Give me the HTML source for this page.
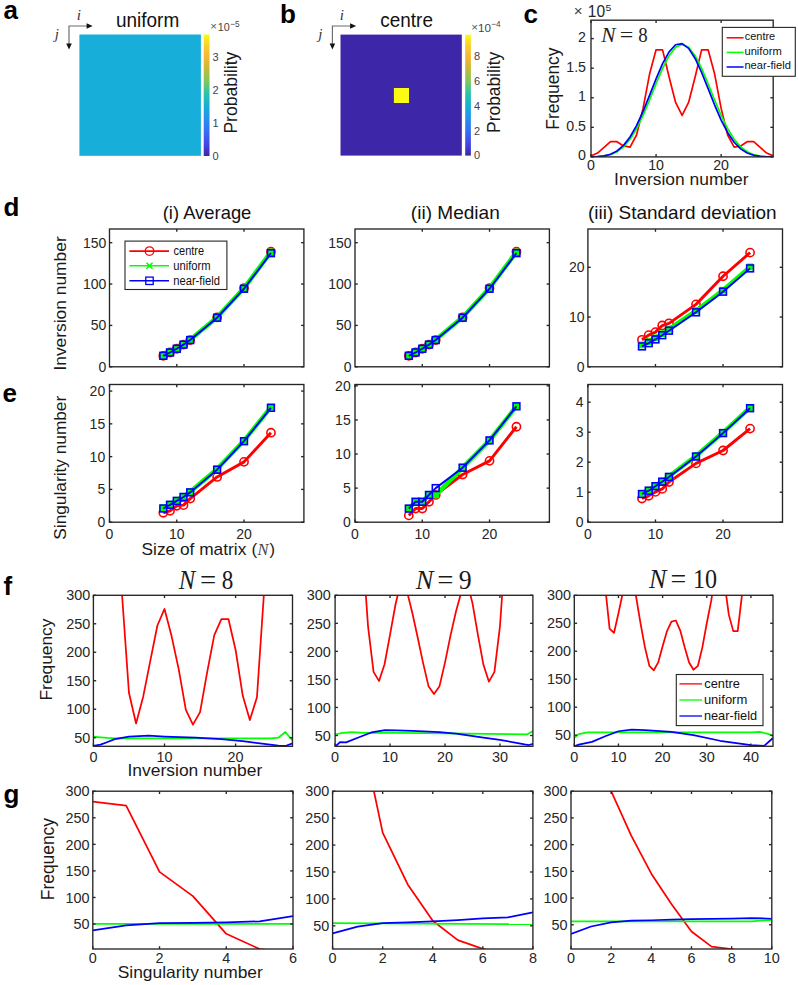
<!DOCTYPE html>
<html><head><meta charset="utf-8"><title>Figure</title>
<style>html,body{margin:0;padding:0;background:#fff;}body{width:798px;height:985px;overflow:hidden;font-family:"Liberation Sans",sans-serif;}svg{display:block;}</style>
</head><body>
<svg width="798" height="985" viewBox="0 0 798 985"><text x="3.5" y="19.2" font-size="26" text-anchor="start" fill="#000" font-family='"Liberation Sans", sans-serif' font-weight="bold" font-style="normal" >a</text>
<text x="280" y="22.9" font-size="26" text-anchor="start" fill="#000" font-family='"Liberation Sans", sans-serif' font-weight="bold" font-style="normal" >b</text>
<text x="523.5" y="23" font-size="26" text-anchor="start" fill="#000" font-family='"Liberation Sans", sans-serif' font-weight="bold" font-style="normal" >c</text>
<text x="3.5" y="216" font-size="26" text-anchor="start" fill="#000" font-family='"Liberation Sans", sans-serif' font-weight="bold" font-style="normal" >d</text>
<text x="2.5" y="402.3" font-size="26" text-anchor="start" fill="#000" font-family='"Liberation Sans", sans-serif' font-weight="bold" font-style="normal" >e</text>
<text x="3.5" y="595" font-size="26" text-anchor="start" fill="#000" font-family='"Liberation Sans", sans-serif' font-weight="bold" font-style="normal" >f</text>
<text x="3.5" y="803" font-size="26" text-anchor="start" fill="#000" font-family='"Liberation Sans", sans-serif' font-weight="bold" font-style="normal" >g</text>
<rect x="79.4" y="34.5" width="121.5" height="121.3" fill="rgb(23,175,217)"/>
<linearGradient id="pa" x1="0" y1="0" x2="0" y2="1"><stop offset="0" stop-color="rgb(249,251,21)"/><stop offset="0.08" stop-color="rgb(250,212,40)"/><stop offset="0.18" stop-color="rgb(248,182,55)"/><stop offset="0.28" stop-color="rgb(200,186,52)"/><stop offset="0.39" stop-color="rgb(120,200,100)"/><stop offset="0.49" stop-color="rgb(40,195,170)"/><stop offset="0.59" stop-color="rgb(20,175,215)"/><stop offset="0.69" stop-color="rgb(40,145,235)"/><stop offset="0.8" stop-color="rgb(55,110,245)"/><stop offset="0.9" stop-color="rgb(70,70,232)"/><stop offset="1" stop-color="rgb(62,38,168)"/></linearGradient>
<rect x="203.7" y="34.5" width="5.8" height="121.5" fill="url(#pa)"/>
<text x="212.5" y="160.1" font-size="11" text-anchor="start" fill="#444" font-family='"Liberation Sans", sans-serif' font-weight="normal" font-style="normal" >0</text>
<text x="212.5" y="127.1" font-size="11" text-anchor="start" fill="#444" font-family='"Liberation Sans", sans-serif' font-weight="normal" font-style="normal" >1</text>
<text x="212.5" y="94.1" font-size="11" text-anchor="start" fill="#444" font-family='"Liberation Sans", sans-serif' font-weight="normal" font-style="normal" >2</text>
<text x="212.5" y="61.1" font-size="11" text-anchor="start" fill="#444" font-family='"Liberation Sans", sans-serif' font-weight="normal" font-style="normal" >3</text>
<text x="210.2" y="30.2" font-size="10" fill="#555" font-family='"Liberation Sans", sans-serif' font-weight="normal" font-style="normal" textLength="6.64" lengthAdjust="spacingAndGlyphs">&#215;</text>
<text x="217.74" y="31" font-size="11" fill="#444" font-family='"Liberation Sans", sans-serif' font-weight="normal" font-style="normal" textLength="12.02" lengthAdjust="spacingAndGlyphs">10</text>
<text x="230.19" y="26.8" font-size="9" fill="#444" font-family='"Liberation Sans", sans-serif' font-weight="normal" font-style="normal" textLength="9.45" lengthAdjust="spacingAndGlyphs">&#8722;5</text>
<text transform="translate(237.2 133.6) rotate(-90)" x="0" y="0" font-size="18.3" fill="#1a1a1a" font-family='"Liberation Sans", sans-serif' font-weight="normal" font-style="normal" textLength="81.89" lengthAdjust="spacingAndGlyphs">Probability</text>
<text x="115.97" y="26.9" font-size="20" fill="#111" font-family='"Liberation Sans", sans-serif' font-weight="normal" font-style="normal" textLength="63.25" lengthAdjust="spacingAndGlyphs">uniform</text>
<path d="M87.6 26 L69 26 L69 44.4" stroke="#6a6a6a" stroke-width="1.15" fill="none"/>
<path d="M92.6 26 L86.6 23.2 L86.6 28.8 Z" fill="#111"/>
<path d="M69 49.4 L66.2 43.4 L71.8 43.4 Z" fill="#111"/>
<text x="76.8" y="19.6" font-size="15" text-anchor="start" fill="#333" font-family='"Liberation Serif", serif' font-weight="normal" font-style="italic" >i</text>
<text x="54.8" y="38.8" font-size="15" text-anchor="start" fill="#333" font-family='"Liberation Serif", serif' font-weight="normal" font-style="italic" >j</text>
<rect x="340.5" y="34.6" width="121.3" height="121" fill="rgb(62,38,168)"/>
<rect x="393.9" y="88" width="15.1" height="15" fill="rgb(249,251,21)"/>
<linearGradient id="pb" x1="0" y1="0" x2="0" y2="1"><stop offset="0" stop-color="rgb(249,251,21)"/><stop offset="0.08" stop-color="rgb(250,212,40)"/><stop offset="0.18" stop-color="rgb(248,182,55)"/><stop offset="0.28" stop-color="rgb(200,186,52)"/><stop offset="0.39" stop-color="rgb(120,200,100)"/><stop offset="0.49" stop-color="rgb(40,195,170)"/><stop offset="0.59" stop-color="rgb(20,175,215)"/><stop offset="0.69" stop-color="rgb(40,145,235)"/><stop offset="0.8" stop-color="rgb(55,110,245)"/><stop offset="0.9" stop-color="rgb(70,70,232)"/><stop offset="1" stop-color="rgb(62,38,168)"/></linearGradient>
<rect x="465.2" y="34.7" width="5.7" height="120.9" fill="url(#pb)"/>
<text x="474" y="159.2" font-size="11" text-anchor="start" fill="#444" font-family='"Liberation Sans", sans-serif' font-weight="normal" font-style="normal" >0</text>
<text x="474" y="134.5" font-size="11" text-anchor="start" fill="#444" font-family='"Liberation Sans", sans-serif' font-weight="normal" font-style="normal" >2</text>
<text x="474" y="109.8" font-size="11" text-anchor="start" fill="#444" font-family='"Liberation Sans", sans-serif' font-weight="normal" font-style="normal" >4</text>
<text x="474" y="85.1" font-size="11" text-anchor="start" fill="#444" font-family='"Liberation Sans", sans-serif' font-weight="normal" font-style="normal" >6</text>
<text x="474" y="60.4" font-size="11" text-anchor="start" fill="#444" font-family='"Liberation Sans", sans-serif' font-weight="normal" font-style="normal" >8</text>
<text x="471.19" y="31.2" font-size="10" fill="#555" font-family='"Liberation Sans", sans-serif' font-weight="normal" font-style="normal" textLength="6.77" lengthAdjust="spacingAndGlyphs">&#215;</text>
<text x="478.07" y="31.8" font-size="11" fill="#444" font-family='"Liberation Sans", sans-serif' font-weight="normal" font-style="normal" textLength="12.92" lengthAdjust="spacingAndGlyphs">10</text>
<text x="491.29" y="27.1" font-size="9" fill="#444" font-family='"Liberation Sans", sans-serif' font-weight="normal" font-style="normal" textLength="9.36" lengthAdjust="spacingAndGlyphs">&#8722;4</text>
<text transform="translate(500 132.89) rotate(-90)" x="0" y="0" font-size="18.3" fill="#1a1a1a" font-family='"Liberation Sans", sans-serif' font-weight="normal" font-style="normal" textLength="81.07" lengthAdjust="spacingAndGlyphs">Probability</text>
<text x="380.34" y="26.7" font-size="19.8" fill="#111" font-family='"Liberation Sans", sans-serif' font-weight="normal" font-style="normal" textLength="52.59" lengthAdjust="spacingAndGlyphs">centre</text>
<path d="M351.1 26 L332.4 26 L332.4 44.5" stroke="#6a6a6a" stroke-width="1.15" fill="none"/>
<path d="M356.1 26 L350.1 23.2 L350.1 28.8 Z" fill="#111"/>
<path d="M332.4 49.5 L329.6 43.5 L335.2 43.5 Z" fill="#111"/>
<text x="339.8" y="19.6" font-size="15" text-anchor="start" fill="#333" font-family='"Liberation Serif", serif' font-weight="normal" font-style="italic" >i</text>
<text x="318.3" y="38.8" font-size="15" text-anchor="start" fill="#333" font-family='"Liberation Serif", serif' font-weight="normal" font-style="italic" >j</text>
<clipPath id="c1"><rect x="591" y="20.2" width="182.2" height="136.7"/></clipPath>
<polyline points="591,155.89 597.51,153.06 604.01,147.44 610.52,141.7 617.03,141.7 623.54,145.96 630.04,147.08 636.55,135.01 643.06,108.4 649.56,74.09 656.07,49.84 662.58,49.84 669.09,77.04 675.59,102.48 682.1,115.49 688.61,102.48 695.11,77.04 701.62,49.84 708.13,49.84 714.64,74.09 721.14,108.4 727.65,135.01 734.16,147.08 740.66,145.96 747.17,141.7 753.68,141.7 760.19,147.44 766.69,153.06 773.2,155.89" fill="none" stroke="#ff0000" stroke-width="1.7" stroke-linejoin="round" clip-path="url(#c1)"/>
<clipPath id="c2"><rect x="591" y="20.2" width="182.2" height="136.7"/></clipPath>
<polyline points="591,156.87 597.51,156.69 604.01,156.11 610.52,154.67 617.03,151.79 623.54,146.84 630.04,139.24 636.55,128.7 643.06,115.38 649.56,99.98 656.07,83.75 662.58,68.38 669.09,55.67 675.59,47.28 682.1,44.35 688.61,47.28 695.11,55.67 701.62,68.38 708.13,83.75 714.64,99.98 721.14,115.38 727.65,128.7 734.16,139.24 740.66,146.84 747.17,151.79 753.68,154.67 760.19,156.11 766.69,156.69 773.2,156.87" fill="none" stroke="#00ff00" stroke-width="1.7" stroke-linejoin="round" clip-path="url(#c2)"/>
<clipPath id="c3"><rect x="591" y="20.2" width="182.2" height="136.7"/></clipPath>
<polyline points="591,156.85 597.51,156.63 604.01,155.91 610.52,154.23 617.03,150.94 623.54,145.38 630.04,137 636.55,125.58 643.06,111.41 649.56,95.34 656.07,78.84 662.58,63.7 669.09,51.82 675.59,44.77 682.1,43.57 688.61,48.36 695.11,58.47 701.62,72.5 708.13,88.66 714.64,105.06 721.14,120.09 727.65,132.66 734.16,142.25 740.66,148.9 747.17,153.04 753.68,155.32 760.19,156.38 766.69,156.78 773.2,156.89" fill="none" stroke="#0000ff" stroke-width="1.7" stroke-linejoin="round" clip-path="url(#c3)"/>
<line x1="591" y1="156.9" x2="591" y2="154.1" stroke="#262626" stroke-width="1.35"/>
<line x1="591" y1="20.2" x2="591" y2="23" stroke="#262626" stroke-width="1.35"/>
<line x1="656.07" y1="156.9" x2="656.07" y2="154.1" stroke="#262626" stroke-width="1.35"/>
<line x1="656.07" y1="20.2" x2="656.07" y2="23" stroke="#262626" stroke-width="1.35"/>
<line x1="721.14" y1="156.9" x2="721.14" y2="154.1" stroke="#262626" stroke-width="1.35"/>
<line x1="721.14" y1="20.2" x2="721.14" y2="23" stroke="#262626" stroke-width="1.35"/>
<line x1="591" y1="156.9" x2="593.8" y2="156.9" stroke="#262626" stroke-width="1.35"/>
<line x1="773.2" y1="156.9" x2="770.4" y2="156.9" stroke="#262626" stroke-width="1.35"/>
<line x1="591" y1="127.32" x2="593.8" y2="127.32" stroke="#262626" stroke-width="1.35"/>
<line x1="773.2" y1="127.32" x2="770.4" y2="127.32" stroke="#262626" stroke-width="1.35"/>
<line x1="591" y1="97.75" x2="593.8" y2="97.75" stroke="#262626" stroke-width="1.35"/>
<line x1="773.2" y1="97.75" x2="770.4" y2="97.75" stroke="#262626" stroke-width="1.35"/>
<line x1="591" y1="68.17" x2="593.8" y2="68.17" stroke="#262626" stroke-width="1.35"/>
<line x1="773.2" y1="68.17" x2="770.4" y2="68.17" stroke="#262626" stroke-width="1.35"/>
<line x1="591" y1="38.6" x2="593.8" y2="38.6" stroke="#262626" stroke-width="1.35"/>
<line x1="773.2" y1="38.6" x2="770.4" y2="38.6" stroke="#262626" stroke-width="1.35"/>
<rect x="591" y="20.2" width="182.2" height="136.7" fill="none" stroke="#262626" stroke-width="1.35"/>
<text x="591" y="170.4" font-size="14.2" text-anchor="middle" fill="#262626" font-family='"Liberation Sans", sans-serif' font-weight="normal" font-style="normal" >0</text>
<text x="656.07" y="170.4" font-size="14.2" text-anchor="middle" fill="#262626" font-family='"Liberation Sans", sans-serif' font-weight="normal" font-style="normal" >10</text>
<text x="721.14" y="170.4" font-size="14.2" text-anchor="middle" fill="#262626" font-family='"Liberation Sans", sans-serif' font-weight="normal" font-style="normal" >20</text>
<text x="586" y="160.45" font-size="14.2" text-anchor="end" fill="#262626" font-family='"Liberation Sans", sans-serif' font-weight="normal" font-style="normal" >0</text>
<text x="586" y="130.87" font-size="14.2" text-anchor="end" fill="#262626" font-family='"Liberation Sans", sans-serif' font-weight="normal" font-style="normal" >0.5</text>
<text x="586" y="101.3" font-size="14.2" text-anchor="end" fill="#262626" font-family='"Liberation Sans", sans-serif' font-weight="normal" font-style="normal" >1</text>
<text x="586" y="71.72" font-size="14.2" text-anchor="end" fill="#262626" font-family='"Liberation Sans", sans-serif' font-weight="normal" font-style="normal" >1.5</text>
<text x="586" y="42.15" font-size="14.2" text-anchor="end" fill="#262626" font-family='"Liberation Sans", sans-serif' font-weight="normal" font-style="normal" >2</text>
<text x="573.73" y="16.3" font-size="15" fill="#444" font-family='"Liberation Sans", sans-serif' font-weight="normal" font-style="normal" textLength="8.89" lengthAdjust="spacingAndGlyphs">&#215;</text>
<text x="587.86" y="16.5" font-size="15.6" fill="#262626" font-family='"Liberation Sans", sans-serif' font-weight="normal" font-style="normal" textLength="17.3" lengthAdjust="spacingAndGlyphs">10</text>
<text x="605.58" y="10.6" font-size="8.6" fill="#262626" font-family='"Liberation Sans", sans-serif' font-weight="normal" font-style="normal" textLength="5.8" lengthAdjust="spacingAndGlyphs">5</text>
<text x="601.21" y="42.3" font-size="21.6" fill="#222" font-family='"Liberation Serif", serif' font-weight="normal" font-style="italic" textLength="14.27" lengthAdjust="spacingAndGlyphs">N</text>
<text x="619.7" y="42.3" font-size="21.6" fill="#222" font-family='"Liberation Serif", serif' font-weight="normal" font-style="normal" textLength="13.56" lengthAdjust="spacingAndGlyphs">=</text>
<text x="638.25" y="42.3" font-size="21.6" fill="#222" font-family='"Liberation Serif", serif' font-weight="normal" font-style="normal" textLength="9.4" lengthAdjust="spacingAndGlyphs">8</text>
<text transform="translate(559.3 129.69) rotate(-90)" x="0" y="0" font-size="17.5" fill="#1a1a1a" font-family='"Liberation Sans", sans-serif' font-weight="normal" font-style="normal" textLength="82.17" lengthAdjust="spacingAndGlyphs">Frequency</text>
<text x="614.13" y="185.2" font-size="16.6" fill="#1a1a1a" font-family='"Liberation Sans", sans-serif' font-weight="normal" font-style="normal" textLength="134.45" lengthAdjust="spacingAndGlyphs">Inversion number</text>
<rect x="722.3" y="27.4" width="73" height="48.9" fill="#fff" stroke="#262626" stroke-width="1.1"/>
<line x1="726.6" y1="37.8" x2="743.6" y2="37.8" stroke="#ff0000" stroke-width="1.5"/>
<text x="744.76" y="40.2" font-size="11.8" fill="#111" font-family='"Liberation Sans", sans-serif' font-weight="normal" font-style="normal" textLength="30.48" lengthAdjust="spacingAndGlyphs">centre</text>
<line x1="726.6" y1="52.4" x2="743.6" y2="52.4" stroke="#00ff00" stroke-width="1.5"/>
<text x="744.42" y="54.8" font-size="11.8" fill="#111" font-family='"Liberation Sans", sans-serif' font-weight="normal" font-style="normal" textLength="37.31" lengthAdjust="spacingAndGlyphs">uniform</text>
<line x1="726.6" y1="67" x2="743.6" y2="67" stroke="#0000ff" stroke-width="1.5"/>
<text x="744.42" y="69.4" font-size="11.8" fill="#111" font-family='"Liberation Sans", sans-serif' font-weight="normal" font-style="normal" textLength="46.45" lengthAdjust="spacingAndGlyphs">near-field</text>
<polyline points="163.31,355.79 170.04,352.48 176.77,348.76 183.49,344.62 190.22,340.07 217.13,317.39 244.03,288.09 270.94,251.68" fill="none" stroke="#ff0000" stroke-width="2.9" stroke-linejoin="round"/>
<circle cx="163.31" cy="355.79" r="4.1" fill="none" stroke="#ff0000" stroke-width="1.6"/>
<circle cx="170.04" cy="352.48" r="4.1" fill="none" stroke="#ff0000" stroke-width="1.6"/>
<circle cx="176.77" cy="348.76" r="4.1" fill="none" stroke="#ff0000" stroke-width="1.6"/>
<circle cx="183.49" cy="344.62" r="4.1" fill="none" stroke="#ff0000" stroke-width="1.6"/>
<circle cx="190.22" cy="340.07" r="4.1" fill="none" stroke="#ff0000" stroke-width="1.6"/>
<circle cx="217.13" cy="317.39" r="4.1" fill="none" stroke="#ff0000" stroke-width="1.6"/>
<circle cx="244.03" cy="288.09" r="4.1" fill="none" stroke="#ff0000" stroke-width="1.6"/>
<circle cx="270.94" cy="251.68" r="4.1" fill="none" stroke="#ff0000" stroke-width="1.6"/>
<polyline points="163.31,355.38 170.04,352.07 176.77,348.34 183.49,344.21 190.22,339.65 217.13,317.31 244.03,288.09 270.94,251.93" fill="none" stroke="#00ff00" stroke-width="4.4" stroke-linejoin="round"/>
<rect x="159.91" y="351.98" width="6.8" height="6.8" fill="#00ff00"/>
<rect x="166.64" y="348.67" width="6.8" height="6.8" fill="#00ff00"/>
<rect x="173.37" y="344.94" width="6.8" height="6.8" fill="#00ff00"/>
<rect x="180.09" y="340.81" width="6.8" height="6.8" fill="#00ff00"/>
<rect x="186.82" y="336.25" width="6.8" height="6.8" fill="#00ff00"/>
<rect x="213.73" y="313.91" width="6.8" height="6.8" fill="#00ff00"/>
<rect x="240.63" y="284.69" width="6.8" height="6.8" fill="#00ff00"/>
<rect x="267.54" y="248.53" width="6.8" height="6.8" fill="#00ff00"/>
<polyline points="163.31,355.79 170.04,352.48 176.77,348.76 183.49,344.62 190.22,340.07 217.13,317.72 244.03,288.75 270.94,253.17" fill="none" stroke="#0000ff" stroke-width="1.9" stroke-linejoin="round"/>
<rect x="159.91" y="352.39" width="6.8" height="6.8" fill="none" stroke="#0000ff" stroke-width="1.6"/>
<rect x="166.64" y="349.08" width="6.8" height="6.8" fill="none" stroke="#0000ff" stroke-width="1.6"/>
<rect x="173.37" y="345.36" width="6.8" height="6.8" fill="none" stroke="#0000ff" stroke-width="1.6"/>
<rect x="180.09" y="341.22" width="6.8" height="6.8" fill="none" stroke="#0000ff" stroke-width="1.6"/>
<rect x="186.82" y="336.67" width="6.8" height="6.8" fill="none" stroke="#0000ff" stroke-width="1.6"/>
<rect x="213.73" y="314.32" width="6.8" height="6.8" fill="none" stroke="#0000ff" stroke-width="1.6"/>
<rect x="240.63" y="285.35" width="6.8" height="6.8" fill="none" stroke="#0000ff" stroke-width="1.6"/>
<rect x="267.54" y="249.77" width="6.8" height="6.8" fill="none" stroke="#0000ff" stroke-width="1.6"/>
<line x1="176.77" y1="366.8" x2="176.77" y2="364" stroke="#262626" stroke-width="1.35"/>
<line x1="176.77" y1="229" x2="176.77" y2="231.8" stroke="#262626" stroke-width="1.35"/>
<line x1="244.03" y1="366.8" x2="244.03" y2="364" stroke="#262626" stroke-width="1.35"/>
<line x1="244.03" y1="229" x2="244.03" y2="231.8" stroke="#262626" stroke-width="1.35"/>
<line x1="109.5" y1="366.8" x2="112.3" y2="366.8" stroke="#262626" stroke-width="1.35"/>
<line x1="303.9" y1="366.8" x2="301.1" y2="366.8" stroke="#262626" stroke-width="1.35"/>
<line x1="109.5" y1="325.42" x2="112.3" y2="325.42" stroke="#262626" stroke-width="1.35"/>
<line x1="303.9" y1="325.42" x2="301.1" y2="325.42" stroke="#262626" stroke-width="1.35"/>
<line x1="109.5" y1="284.04" x2="112.3" y2="284.04" stroke="#262626" stroke-width="1.35"/>
<line x1="303.9" y1="284.04" x2="301.1" y2="284.04" stroke="#262626" stroke-width="1.35"/>
<line x1="109.5" y1="242.66" x2="112.3" y2="242.66" stroke="#262626" stroke-width="1.35"/>
<line x1="303.9" y1="242.66" x2="301.1" y2="242.66" stroke="#262626" stroke-width="1.35"/>
<rect x="109.5" y="229" width="194.4" height="137.8" fill="none" stroke="#262626" stroke-width="1.35"/>
<text x="106.3" y="371.84" font-size="14" text-anchor="end" fill="#262626" font-family='"Liberation Sans", sans-serif' font-weight="normal" font-style="normal" >0</text>
<text x="106.3" y="330.46" font-size="14" text-anchor="end" fill="#262626" font-family='"Liberation Sans", sans-serif' font-weight="normal" font-style="normal" >50</text>
<text x="106.3" y="289.08" font-size="14" text-anchor="end" fill="#262626" font-family='"Liberation Sans", sans-serif' font-weight="normal" font-style="normal" >100</text>
<text x="106.3" y="247.7" font-size="14" text-anchor="end" fill="#262626" font-family='"Liberation Sans", sans-serif' font-weight="normal" font-style="normal" >150</text>
<rect x="125" y="241.1" width="101.9" height="48.4" fill="#fff" stroke="#262626" stroke-width="1.1"/>
<line x1="129.4" y1="251.1" x2="169" y2="251.1" stroke="#ff0000" stroke-width="1.6"/>
<circle cx="149.5" cy="251.1" r="4.3" fill="none" stroke="#ff0000" stroke-width="1.3"/>
<text x="173.56" y="255.3" font-size="12" fill="#111" font-family='"Liberation Sans", sans-serif' font-weight="normal" font-style="normal" textLength="30.58" lengthAdjust="spacingAndGlyphs">centre</text>
<line x1="129.4" y1="265.7" x2="169" y2="265.7" stroke="#00ff00" stroke-width="1.6"/>
<path d="M146.5 262.7L152.5 268.7M146.5 268.7L152.5 262.7" stroke="#00ff00" stroke-width="1.6"/>
<text x="173.22" y="269.9" font-size="12" fill="#111" font-family='"Liberation Sans", sans-serif' font-weight="normal" font-style="normal" textLength="37.31" lengthAdjust="spacingAndGlyphs">uniform</text>
<line x1="129.4" y1="280.8" x2="169" y2="280.8" stroke="#0000ff" stroke-width="1.6"/>
<rect x="145.8" y="277.1" width="7.4" height="7.4" fill="none" stroke="#0000ff" stroke-width="1.3"/>
<text x="173.22" y="285" font-size="12" fill="#111" font-family='"Liberation Sans", sans-serif' font-weight="normal" font-style="normal" textLength="46.66" lengthAdjust="spacingAndGlyphs">near-field</text>
<text transform="translate(65.6 370.56) rotate(-90)" x="0" y="0" font-size="17" fill="#1a1a1a" font-family='"Liberation Sans", sans-serif' font-weight="normal" font-style="normal" textLength="134.24" lengthAdjust="spacingAndGlyphs">Inversion number</text>
<text x="162.7" y="218.8" font-size="18.2" fill="#111" font-family='"Liberation Sans", sans-serif' font-weight="normal" font-style="normal" textLength="88.68" lengthAdjust="spacingAndGlyphs">(i) Average</text>
<polyline points="408.81,355.79 415.54,352.48 422.27,348.76 428.99,344.62 435.72,340.07 462.63,317.39 489.53,288.09 516.44,251.68" fill="none" stroke="#ff0000" stroke-width="2.9" stroke-linejoin="round"/>
<circle cx="408.81" cy="355.79" r="4.1" fill="none" stroke="#ff0000" stroke-width="1.6"/>
<circle cx="415.54" cy="352.48" r="4.1" fill="none" stroke="#ff0000" stroke-width="1.6"/>
<circle cx="422.27" cy="348.76" r="4.1" fill="none" stroke="#ff0000" stroke-width="1.6"/>
<circle cx="428.99" cy="344.62" r="4.1" fill="none" stroke="#ff0000" stroke-width="1.6"/>
<circle cx="435.72" cy="340.07" r="4.1" fill="none" stroke="#ff0000" stroke-width="1.6"/>
<circle cx="462.63" cy="317.39" r="4.1" fill="none" stroke="#ff0000" stroke-width="1.6"/>
<circle cx="489.53" cy="288.09" r="4.1" fill="none" stroke="#ff0000" stroke-width="1.6"/>
<circle cx="516.44" cy="251.68" r="4.1" fill="none" stroke="#ff0000" stroke-width="1.6"/>
<polyline points="408.81,355.38 415.54,352.07 422.27,348.34 428.99,344.21 435.72,339.65 462.63,317.31 489.53,288.09 516.44,251.93" fill="none" stroke="#00ff00" stroke-width="4.4" stroke-linejoin="round"/>
<rect x="405.41" y="351.98" width="6.8" height="6.8" fill="#00ff00"/>
<rect x="412.14" y="348.67" width="6.8" height="6.8" fill="#00ff00"/>
<rect x="418.87" y="344.94" width="6.8" height="6.8" fill="#00ff00"/>
<rect x="425.59" y="340.81" width="6.8" height="6.8" fill="#00ff00"/>
<rect x="432.32" y="336.25" width="6.8" height="6.8" fill="#00ff00"/>
<rect x="459.23" y="313.91" width="6.8" height="6.8" fill="#00ff00"/>
<rect x="486.13" y="284.69" width="6.8" height="6.8" fill="#00ff00"/>
<rect x="513.04" y="248.53" width="6.8" height="6.8" fill="#00ff00"/>
<polyline points="408.81,355.79 415.54,352.48 422.27,348.76 428.99,344.62 435.72,340.07 462.63,317.72 489.53,288.75 516.44,253.17" fill="none" stroke="#0000ff" stroke-width="1.9" stroke-linejoin="round"/>
<rect x="405.41" y="352.39" width="6.8" height="6.8" fill="none" stroke="#0000ff" stroke-width="1.6"/>
<rect x="412.14" y="349.08" width="6.8" height="6.8" fill="none" stroke="#0000ff" stroke-width="1.6"/>
<rect x="418.87" y="345.36" width="6.8" height="6.8" fill="none" stroke="#0000ff" stroke-width="1.6"/>
<rect x="425.59" y="341.22" width="6.8" height="6.8" fill="none" stroke="#0000ff" stroke-width="1.6"/>
<rect x="432.32" y="336.67" width="6.8" height="6.8" fill="none" stroke="#0000ff" stroke-width="1.6"/>
<rect x="459.23" y="314.32" width="6.8" height="6.8" fill="none" stroke="#0000ff" stroke-width="1.6"/>
<rect x="486.13" y="285.35" width="6.8" height="6.8" fill="none" stroke="#0000ff" stroke-width="1.6"/>
<rect x="513.04" y="249.77" width="6.8" height="6.8" fill="none" stroke="#0000ff" stroke-width="1.6"/>
<line x1="422.27" y1="366.8" x2="422.27" y2="364" stroke="#262626" stroke-width="1.35"/>
<line x1="422.27" y1="229" x2="422.27" y2="231.8" stroke="#262626" stroke-width="1.35"/>
<line x1="489.53" y1="366.8" x2="489.53" y2="364" stroke="#262626" stroke-width="1.35"/>
<line x1="489.53" y1="229" x2="489.53" y2="231.8" stroke="#262626" stroke-width="1.35"/>
<line x1="355" y1="366.8" x2="357.8" y2="366.8" stroke="#262626" stroke-width="1.35"/>
<line x1="549.4" y1="366.8" x2="546.6" y2="366.8" stroke="#262626" stroke-width="1.35"/>
<line x1="355" y1="325.42" x2="357.8" y2="325.42" stroke="#262626" stroke-width="1.35"/>
<line x1="549.4" y1="325.42" x2="546.6" y2="325.42" stroke="#262626" stroke-width="1.35"/>
<line x1="355" y1="284.04" x2="357.8" y2="284.04" stroke="#262626" stroke-width="1.35"/>
<line x1="549.4" y1="284.04" x2="546.6" y2="284.04" stroke="#262626" stroke-width="1.35"/>
<line x1="355" y1="242.66" x2="357.8" y2="242.66" stroke="#262626" stroke-width="1.35"/>
<line x1="549.4" y1="242.66" x2="546.6" y2="242.66" stroke="#262626" stroke-width="1.35"/>
<rect x="355" y="229" width="194.4" height="137.8" fill="none" stroke="#262626" stroke-width="1.35"/>
<text x="351.6" y="371.84" font-size="14" text-anchor="end" fill="#262626" font-family='"Liberation Sans", sans-serif' font-weight="normal" font-style="normal" >0</text>
<text x="351.6" y="330.46" font-size="14" text-anchor="end" fill="#262626" font-family='"Liberation Sans", sans-serif' font-weight="normal" font-style="normal" >50</text>
<text x="351.6" y="289.08" font-size="14" text-anchor="end" fill="#262626" font-family='"Liberation Sans", sans-serif' font-weight="normal" font-style="normal" >100</text>
<text x="351.6" y="247.7" font-size="14" text-anchor="end" fill="#262626" font-family='"Liberation Sans", sans-serif' font-weight="normal" font-style="normal" >150</text>
<text x="410.86" y="218.8" font-size="18.2" fill="#111" font-family='"Liberation Sans", sans-serif' font-weight="normal" font-style="normal" textLength="88.94" lengthAdjust="spacingAndGlyphs">(ii) Median</text>
<polyline points="641.96,339.79 648.71,335.11 655.47,332.13 662.23,325.51 668.98,323.32 696.01,304.37 723.04,276.26 750.07,252.63" fill="none" stroke="#ff0000" stroke-width="2.9" stroke-linejoin="round"/>
<circle cx="641.96" cy="339.79" r="4.1" fill="none" stroke="#ff0000" stroke-width="1.6"/>
<circle cx="648.71" cy="335.11" r="4.1" fill="none" stroke="#ff0000" stroke-width="1.6"/>
<circle cx="655.47" cy="332.13" r="4.1" fill="none" stroke="#ff0000" stroke-width="1.6"/>
<circle cx="662.23" cy="325.51" r="4.1" fill="none" stroke="#ff0000" stroke-width="1.6"/>
<circle cx="668.98" cy="323.32" r="4.1" fill="none" stroke="#ff0000" stroke-width="1.6"/>
<circle cx="696.01" cy="304.37" r="4.1" fill="none" stroke="#ff0000" stroke-width="1.6"/>
<circle cx="723.04" cy="276.26" r="4.1" fill="none" stroke="#ff0000" stroke-width="1.6"/>
<circle cx="750.07" cy="252.63" r="4.1" fill="none" stroke="#ff0000" stroke-width="1.6"/>
<polyline points="641.96,344.91 648.71,341.68 655.47,337.95 662.23,333.72 668.98,329.19 696.01,310.83 723.04,290.19 750.07,266.91" fill="none" stroke="#00ff00" stroke-width="4.4" stroke-linejoin="round"/>
<rect x="638.56" y="341.51" width="6.8" height="6.8" fill="#00ff00"/>
<rect x="645.31" y="338.28" width="6.8" height="6.8" fill="#00ff00"/>
<rect x="652.07" y="334.55" width="6.8" height="6.8" fill="#00ff00"/>
<rect x="658.83" y="330.32" width="6.8" height="6.8" fill="#00ff00"/>
<rect x="665.58" y="325.79" width="6.8" height="6.8" fill="#00ff00"/>
<rect x="692.61" y="307.43" width="6.8" height="6.8" fill="#00ff00"/>
<rect x="719.64" y="286.79" width="6.8" height="6.8" fill="#00ff00"/>
<rect x="746.67" y="263.51" width="6.8" height="6.8" fill="#00ff00"/>
<polyline points="641.96,346.4 648.71,343.17 655.47,339.44 662.23,335.21 668.98,330.68 696.01,312.33 723.04,291.68 750.07,268.4" fill="none" stroke="#0000ff" stroke-width="1.9" stroke-linejoin="round"/>
<rect x="638.56" y="343" width="6.8" height="6.8" fill="none" stroke="#0000ff" stroke-width="1.6"/>
<rect x="645.31" y="339.77" width="6.8" height="6.8" fill="none" stroke="#0000ff" stroke-width="1.6"/>
<rect x="652.07" y="336.04" width="6.8" height="6.8" fill="none" stroke="#0000ff" stroke-width="1.6"/>
<rect x="658.83" y="331.81" width="6.8" height="6.8" fill="none" stroke="#0000ff" stroke-width="1.6"/>
<rect x="665.58" y="327.28" width="6.8" height="6.8" fill="none" stroke="#0000ff" stroke-width="1.6"/>
<rect x="692.61" y="308.93" width="6.8" height="6.8" fill="none" stroke="#0000ff" stroke-width="1.6"/>
<rect x="719.64" y="288.28" width="6.8" height="6.8" fill="none" stroke="#0000ff" stroke-width="1.6"/>
<rect x="746.67" y="265" width="6.8" height="6.8" fill="none" stroke="#0000ff" stroke-width="1.6"/>
<line x1="655.47" y1="366.8" x2="655.47" y2="364" stroke="#262626" stroke-width="1.35"/>
<line x1="655.47" y1="229" x2="655.47" y2="231.8" stroke="#262626" stroke-width="1.35"/>
<line x1="723.04" y1="366.8" x2="723.04" y2="364" stroke="#262626" stroke-width="1.35"/>
<line x1="723.04" y1="229" x2="723.04" y2="231.8" stroke="#262626" stroke-width="1.35"/>
<line x1="587.9" y1="366.8" x2="590.7" y2="366.8" stroke="#262626" stroke-width="1.35"/>
<line x1="782.5" y1="366.8" x2="779.7" y2="366.8" stroke="#262626" stroke-width="1.35"/>
<line x1="587.9" y1="317.05" x2="590.7" y2="317.05" stroke="#262626" stroke-width="1.35"/>
<line x1="782.5" y1="317.05" x2="779.7" y2="317.05" stroke="#262626" stroke-width="1.35"/>
<line x1="587.9" y1="267.31" x2="590.7" y2="267.31" stroke="#262626" stroke-width="1.35"/>
<line x1="782.5" y1="267.31" x2="779.7" y2="267.31" stroke="#262626" stroke-width="1.35"/>
<rect x="587.9" y="229" width="194.6" height="137.8" fill="none" stroke="#262626" stroke-width="1.35"/>
<text x="584.5" y="371.84" font-size="14" text-anchor="end" fill="#262626" font-family='"Liberation Sans", sans-serif' font-weight="normal" font-style="normal" >0</text>
<text x="584.5" y="322.09" font-size="14" text-anchor="end" fill="#262626" font-family='"Liberation Sans", sans-serif' font-weight="normal" font-style="normal" >10</text>
<text x="584.5" y="272.35" font-size="14" text-anchor="end" fill="#262626" font-family='"Liberation Sans", sans-serif' font-weight="normal" font-style="normal" >20</text>
<text x="588.06" y="218.8" font-size="18.2" fill="#111" font-family='"Liberation Sans", sans-serif' font-weight="normal" font-style="normal" textLength="188.56" lengthAdjust="spacingAndGlyphs">(iii) Standard deviation</text>
<polyline points="163.31,512.76 170.04,510.86 176.77,505.81 183.49,505.15 190.22,498.59 217.13,476.96 244.03,461.87 270.94,432.69" fill="none" stroke="#ff0000" stroke-width="2.9" stroke-linejoin="round"/>
<circle cx="163.31" cy="512.76" r="4.1" fill="none" stroke="#ff0000" stroke-width="1.6"/>
<circle cx="170.04" cy="510.86" r="4.1" fill="none" stroke="#ff0000" stroke-width="1.6"/>
<circle cx="176.77" cy="505.81" r="4.1" fill="none" stroke="#ff0000" stroke-width="1.6"/>
<circle cx="183.49" cy="505.15" r="4.1" fill="none" stroke="#ff0000" stroke-width="1.6"/>
<circle cx="190.22" cy="498.59" r="4.1" fill="none" stroke="#ff0000" stroke-width="1.6"/>
<circle cx="217.13" cy="476.96" r="4.1" fill="none" stroke="#ff0000" stroke-width="1.6"/>
<circle cx="244.03" cy="461.87" r="4.1" fill="none" stroke="#ff0000" stroke-width="1.6"/>
<circle cx="270.94" cy="432.69" r="4.1" fill="none" stroke="#ff0000" stroke-width="1.6"/>
<polyline points="163.31,507.84 170.04,504.17 176.77,500.23 183.49,496.3 190.22,491.71 217.13,469.02 244.03,440.56 270.94,407.12" fill="none" stroke="#00ff00" stroke-width="4.4" stroke-linejoin="round"/>
<rect x="159.91" y="504.44" width="6.8" height="6.8" fill="#00ff00"/>
<rect x="166.64" y="500.77" width="6.8" height="6.8" fill="#00ff00"/>
<rect x="173.37" y="496.83" width="6.8" height="6.8" fill="#00ff00"/>
<rect x="180.09" y="492.9" width="6.8" height="6.8" fill="#00ff00"/>
<rect x="186.82" y="488.31" width="6.8" height="6.8" fill="#00ff00"/>
<rect x="213.73" y="465.62" width="6.8" height="6.8" fill="#00ff00"/>
<rect x="240.63" y="437.16" width="6.8" height="6.8" fill="#00ff00"/>
<rect x="267.54" y="403.72" width="6.8" height="6.8" fill="#00ff00"/>
<polyline points="163.31,508.5 170.04,504.82 176.77,500.89 183.49,496.96 190.22,492.37 217.13,469.68 244.03,441.22 270.94,407.78" fill="none" stroke="#0000ff" stroke-width="1.9" stroke-linejoin="round"/>
<rect x="159.91" y="505.1" width="6.8" height="6.8" fill="none" stroke="#0000ff" stroke-width="1.6"/>
<rect x="166.64" y="501.42" width="6.8" height="6.8" fill="none" stroke="#0000ff" stroke-width="1.6"/>
<rect x="173.37" y="497.49" width="6.8" height="6.8" fill="none" stroke="#0000ff" stroke-width="1.6"/>
<rect x="180.09" y="493.56" width="6.8" height="6.8" fill="none" stroke="#0000ff" stroke-width="1.6"/>
<rect x="186.82" y="488.97" width="6.8" height="6.8" fill="none" stroke="#0000ff" stroke-width="1.6"/>
<rect x="213.73" y="466.28" width="6.8" height="6.8" fill="none" stroke="#0000ff" stroke-width="1.6"/>
<rect x="240.63" y="437.82" width="6.8" height="6.8" fill="none" stroke="#0000ff" stroke-width="1.6"/>
<rect x="267.54" y="404.38" width="6.8" height="6.8" fill="none" stroke="#0000ff" stroke-width="1.6"/>
<line x1="109.5" y1="522.2" x2="109.5" y2="519.4" stroke="#262626" stroke-width="1.35"/>
<line x1="109.5" y1="384.5" x2="109.5" y2="387.3" stroke="#262626" stroke-width="1.35"/>
<line x1="176.77" y1="522.2" x2="176.77" y2="519.4" stroke="#262626" stroke-width="1.35"/>
<line x1="176.77" y1="384.5" x2="176.77" y2="387.3" stroke="#262626" stroke-width="1.35"/>
<line x1="244.03" y1="522.2" x2="244.03" y2="519.4" stroke="#262626" stroke-width="1.35"/>
<line x1="244.03" y1="384.5" x2="244.03" y2="387.3" stroke="#262626" stroke-width="1.35"/>
<line x1="109.5" y1="522.2" x2="112.3" y2="522.2" stroke="#262626" stroke-width="1.35"/>
<line x1="303.9" y1="522.2" x2="301.1" y2="522.2" stroke="#262626" stroke-width="1.35"/>
<line x1="109.5" y1="489.41" x2="112.3" y2="489.41" stroke="#262626" stroke-width="1.35"/>
<line x1="303.9" y1="489.41" x2="301.1" y2="489.41" stroke="#262626" stroke-width="1.35"/>
<line x1="109.5" y1="456.63" x2="112.3" y2="456.63" stroke="#262626" stroke-width="1.35"/>
<line x1="303.9" y1="456.63" x2="301.1" y2="456.63" stroke="#262626" stroke-width="1.35"/>
<line x1="109.5" y1="423.84" x2="112.3" y2="423.84" stroke="#262626" stroke-width="1.35"/>
<line x1="303.9" y1="423.84" x2="301.1" y2="423.84" stroke="#262626" stroke-width="1.35"/>
<line x1="109.5" y1="391.06" x2="112.3" y2="391.06" stroke="#262626" stroke-width="1.35"/>
<line x1="303.9" y1="391.06" x2="301.1" y2="391.06" stroke="#262626" stroke-width="1.35"/>
<rect x="109.5" y="384.5" width="194.4" height="137.7" fill="none" stroke="#262626" stroke-width="1.35"/>
<text x="109.5" y="538.9" font-size="14" text-anchor="middle" fill="#262626" font-family='"Liberation Sans", sans-serif' font-weight="normal" font-style="normal" >0</text>
<text x="176.77" y="538.9" font-size="14" text-anchor="middle" fill="#262626" font-family='"Liberation Sans", sans-serif' font-weight="normal" font-style="normal" >10</text>
<text x="244.03" y="538.9" font-size="14" text-anchor="middle" fill="#262626" font-family='"Liberation Sans", sans-serif' font-weight="normal" font-style="normal" >20</text>
<text x="105.2" y="527.24" font-size="14" text-anchor="end" fill="#262626" font-family='"Liberation Sans", sans-serif' font-weight="normal" font-style="normal" >0</text>
<text x="105.2" y="494.45" font-size="14" text-anchor="end" fill="#262626" font-family='"Liberation Sans", sans-serif' font-weight="normal" font-style="normal" >5</text>
<text x="105.2" y="461.67" font-size="14" text-anchor="end" fill="#262626" font-family='"Liberation Sans", sans-serif' font-weight="normal" font-style="normal" >10</text>
<text x="105.2" y="428.88" font-size="14" text-anchor="end" fill="#262626" font-family='"Liberation Sans", sans-serif' font-weight="normal" font-style="normal" >15</text>
<text x="105.2" y="396.1" font-size="14" text-anchor="end" fill="#262626" font-family='"Liberation Sans", sans-serif' font-weight="normal" font-style="normal" >20</text>
<text transform="translate(65.6 539.66) rotate(-90)" x="0" y="0" font-size="17" fill="#1a1a1a" font-family='"Liberation Sans", sans-serif' font-weight="normal" font-style="normal" textLength="143.86" lengthAdjust="spacingAndGlyphs">Singularity number</text>
<text x="141.54" y="555.3" font-size="16.6" fill="#1a1a1a" font-family='"Liberation Sans", sans-serif' font-weight="normal" font-style="normal" textLength="104.76" lengthAdjust="spacingAndGlyphs">Size of matrix</text>
<text x="251.48" y="555.3" font-size="16.6" fill="#1a1a1a" font-family='"Liberation Sans", sans-serif' font-weight="normal" font-style="normal" textLength="5.64" lengthAdjust="spacingAndGlyphs">(</text>
<text x="257.56" y="555.3" font-size="17.5" fill="#444" font-family='"Liberation Serif", serif' font-weight="normal" font-style="italic" textLength="10.93" lengthAdjust="spacingAndGlyphs">N</text>
<text x="269.43" y="555.3" font-size="16.6" fill="#1a1a1a" font-family='"Liberation Sans", sans-serif' font-weight="normal" font-style="normal" textLength="5.51" lengthAdjust="spacingAndGlyphs">)</text>
<polyline points="408.81,515.38 415.54,508.57 422.27,508.57 428.99,501.75 435.72,494.93 462.63,474.48 489.53,460.85 516.44,426.76" fill="none" stroke="#ff0000" stroke-width="2.9" stroke-linejoin="round"/>
<circle cx="408.81" cy="515.38" r="4.1" fill="none" stroke="#ff0000" stroke-width="1.6"/>
<circle cx="415.54" cy="508.57" r="4.1" fill="none" stroke="#ff0000" stroke-width="1.6"/>
<circle cx="422.27" cy="508.57" r="4.1" fill="none" stroke="#ff0000" stroke-width="1.6"/>
<circle cx="428.99" cy="501.75" r="4.1" fill="none" stroke="#ff0000" stroke-width="1.6"/>
<circle cx="435.72" cy="494.93" r="4.1" fill="none" stroke="#ff0000" stroke-width="1.6"/>
<circle cx="462.63" cy="474.48" r="4.1" fill="none" stroke="#ff0000" stroke-width="1.6"/>
<circle cx="489.53" cy="460.85" r="4.1" fill="none" stroke="#ff0000" stroke-width="1.6"/>
<circle cx="516.44" cy="426.76" r="4.1" fill="none" stroke="#ff0000" stroke-width="1.6"/>
<polyline points="408.81,508.57 415.54,501.75 422.27,501.75 428.99,494.93 435.72,494.93 462.63,467.67 489.53,440.4 516.44,406.31" fill="none" stroke="#00ff00" stroke-width="4.4" stroke-linejoin="round"/>
<rect x="405.41" y="505.17" width="6.8" height="6.8" fill="#00ff00"/>
<rect x="412.14" y="498.35" width="6.8" height="6.8" fill="#00ff00"/>
<rect x="418.87" y="498.35" width="6.8" height="6.8" fill="#00ff00"/>
<rect x="425.59" y="491.53" width="6.8" height="6.8" fill="#00ff00"/>
<rect x="432.32" y="491.53" width="6.8" height="6.8" fill="#00ff00"/>
<rect x="459.23" y="464.27" width="6.8" height="6.8" fill="#00ff00"/>
<rect x="486.13" y="437" width="6.8" height="6.8" fill="#00ff00"/>
<rect x="513.04" y="402.91" width="6.8" height="6.8" fill="#00ff00"/>
<polyline points="408.81,508.57 415.54,501.75 422.27,501.75 428.99,494.93 435.72,488.12 462.63,467.67 489.53,440.4 516.44,406.31" fill="none" stroke="#0000ff" stroke-width="1.9" stroke-linejoin="round"/>
<rect x="405.41" y="505.17" width="6.8" height="6.8" fill="none" stroke="#0000ff" stroke-width="1.6"/>
<rect x="412.14" y="498.35" width="6.8" height="6.8" fill="none" stroke="#0000ff" stroke-width="1.6"/>
<rect x="418.87" y="498.35" width="6.8" height="6.8" fill="none" stroke="#0000ff" stroke-width="1.6"/>
<rect x="425.59" y="491.53" width="6.8" height="6.8" fill="none" stroke="#0000ff" stroke-width="1.6"/>
<rect x="432.32" y="484.72" width="6.8" height="6.8" fill="none" stroke="#0000ff" stroke-width="1.6"/>
<rect x="459.23" y="464.27" width="6.8" height="6.8" fill="none" stroke="#0000ff" stroke-width="1.6"/>
<rect x="486.13" y="437" width="6.8" height="6.8" fill="none" stroke="#0000ff" stroke-width="1.6"/>
<rect x="513.04" y="402.91" width="6.8" height="6.8" fill="none" stroke="#0000ff" stroke-width="1.6"/>
<line x1="355" y1="522.2" x2="355" y2="519.4" stroke="#262626" stroke-width="1.35"/>
<line x1="355" y1="384.5" x2="355" y2="387.3" stroke="#262626" stroke-width="1.35"/>
<line x1="422.27" y1="522.2" x2="422.27" y2="519.4" stroke="#262626" stroke-width="1.35"/>
<line x1="422.27" y1="384.5" x2="422.27" y2="387.3" stroke="#262626" stroke-width="1.35"/>
<line x1="489.53" y1="522.2" x2="489.53" y2="519.4" stroke="#262626" stroke-width="1.35"/>
<line x1="489.53" y1="384.5" x2="489.53" y2="387.3" stroke="#262626" stroke-width="1.35"/>
<line x1="355" y1="522.2" x2="357.8" y2="522.2" stroke="#262626" stroke-width="1.35"/>
<line x1="549.4" y1="522.2" x2="546.6" y2="522.2" stroke="#262626" stroke-width="1.35"/>
<line x1="355" y1="488.12" x2="357.8" y2="488.12" stroke="#262626" stroke-width="1.35"/>
<line x1="549.4" y1="488.12" x2="546.6" y2="488.12" stroke="#262626" stroke-width="1.35"/>
<line x1="355" y1="454.03" x2="357.8" y2="454.03" stroke="#262626" stroke-width="1.35"/>
<line x1="549.4" y1="454.03" x2="546.6" y2="454.03" stroke="#262626" stroke-width="1.35"/>
<line x1="355" y1="419.95" x2="357.8" y2="419.95" stroke="#262626" stroke-width="1.35"/>
<line x1="549.4" y1="419.95" x2="546.6" y2="419.95" stroke="#262626" stroke-width="1.35"/>
<line x1="355" y1="385.86" x2="357.8" y2="385.86" stroke="#262626" stroke-width="1.35"/>
<line x1="549.4" y1="385.86" x2="546.6" y2="385.86" stroke="#262626" stroke-width="1.35"/>
<rect x="355" y="384.5" width="194.4" height="137.7" fill="none" stroke="#262626" stroke-width="1.35"/>
<text x="355" y="538.9" font-size="14" text-anchor="middle" fill="#262626" font-family='"Liberation Sans", sans-serif' font-weight="normal" font-style="normal" >0</text>
<text x="422.27" y="538.9" font-size="14" text-anchor="middle" fill="#262626" font-family='"Liberation Sans", sans-serif' font-weight="normal" font-style="normal" >10</text>
<text x="489.53" y="538.9" font-size="14" text-anchor="middle" fill="#262626" font-family='"Liberation Sans", sans-serif' font-weight="normal" font-style="normal" >20</text>
<text x="350.7" y="527.24" font-size="14" text-anchor="end" fill="#262626" font-family='"Liberation Sans", sans-serif' font-weight="normal" font-style="normal" >0</text>
<text x="350.7" y="493.16" font-size="14" text-anchor="end" fill="#262626" font-family='"Liberation Sans", sans-serif' font-weight="normal" font-style="normal" >5</text>
<text x="350.7" y="459.07" font-size="14" text-anchor="end" fill="#262626" font-family='"Liberation Sans", sans-serif' font-weight="normal" font-style="normal" >10</text>
<text x="350.7" y="424.99" font-size="14" text-anchor="end" fill="#262626" font-family='"Liberation Sans", sans-serif' font-weight="normal" font-style="normal" >15</text>
<text x="350.7" y="390.9" font-size="14" text-anchor="end" fill="#262626" font-family='"Liberation Sans", sans-serif' font-weight="normal" font-style="normal" >20</text>
<polyline points="641.96,498.5 648.71,495.8 655.47,491.9 662.23,488.9 668.98,482 696.01,463.4 723.04,450.5 750.07,428.6" fill="none" stroke="#ff0000" stroke-width="2.9" stroke-linejoin="round"/>
<circle cx="641.96" cy="498.5" r="4.1" fill="none" stroke="#ff0000" stroke-width="1.6"/>
<circle cx="648.71" cy="495.8" r="4.1" fill="none" stroke="#ff0000" stroke-width="1.6"/>
<circle cx="655.47" cy="491.9" r="4.1" fill="none" stroke="#ff0000" stroke-width="1.6"/>
<circle cx="662.23" cy="488.9" r="4.1" fill="none" stroke="#ff0000" stroke-width="1.6"/>
<circle cx="668.98" cy="482" r="4.1" fill="none" stroke="#ff0000" stroke-width="1.6"/>
<circle cx="696.01" cy="463.4" r="4.1" fill="none" stroke="#ff0000" stroke-width="1.6"/>
<circle cx="723.04" cy="450.5" r="4.1" fill="none" stroke="#ff0000" stroke-width="1.6"/>
<circle cx="750.07" cy="428.6" r="4.1" fill="none" stroke="#ff0000" stroke-width="1.6"/>
<polyline points="641.96,493.4 648.71,490.1 655.47,485.6 662.23,481.1 668.98,476.3 696.01,455.9 723.04,432.5 750.07,407.6" fill="none" stroke="#00ff00" stroke-width="4.4" stroke-linejoin="round"/>
<rect x="638.56" y="490" width="6.8" height="6.8" fill="#00ff00"/>
<rect x="645.31" y="486.7" width="6.8" height="6.8" fill="#00ff00"/>
<rect x="652.07" y="482.2" width="6.8" height="6.8" fill="#00ff00"/>
<rect x="658.83" y="477.7" width="6.8" height="6.8" fill="#00ff00"/>
<rect x="665.58" y="472.9" width="6.8" height="6.8" fill="#00ff00"/>
<rect x="692.61" y="452.5" width="6.8" height="6.8" fill="#00ff00"/>
<rect x="719.64" y="429.1" width="6.8" height="6.8" fill="#00ff00"/>
<rect x="746.67" y="404.2" width="6.8" height="6.8" fill="#00ff00"/>
<polyline points="641.96,494 648.71,490.7 655.47,486.2 662.23,481.7 668.98,476.9 696.01,456.5 723.04,433.1 750.07,408.2" fill="none" stroke="#0000ff" stroke-width="1.9" stroke-linejoin="round"/>
<rect x="638.56" y="490.6" width="6.8" height="6.8" fill="none" stroke="#0000ff" stroke-width="1.6"/>
<rect x="645.31" y="487.3" width="6.8" height="6.8" fill="none" stroke="#0000ff" stroke-width="1.6"/>
<rect x="652.07" y="482.8" width="6.8" height="6.8" fill="none" stroke="#0000ff" stroke-width="1.6"/>
<rect x="658.83" y="478.3" width="6.8" height="6.8" fill="none" stroke="#0000ff" stroke-width="1.6"/>
<rect x="665.58" y="473.5" width="6.8" height="6.8" fill="none" stroke="#0000ff" stroke-width="1.6"/>
<rect x="692.61" y="453.1" width="6.8" height="6.8" fill="none" stroke="#0000ff" stroke-width="1.6"/>
<rect x="719.64" y="429.7" width="6.8" height="6.8" fill="none" stroke="#0000ff" stroke-width="1.6"/>
<rect x="746.67" y="404.8" width="6.8" height="6.8" fill="none" stroke="#0000ff" stroke-width="1.6"/>
<line x1="587.9" y1="522.2" x2="587.9" y2="519.4" stroke="#262626" stroke-width="1.35"/>
<line x1="587.9" y1="384.5" x2="587.9" y2="387.3" stroke="#262626" stroke-width="1.35"/>
<line x1="655.47" y1="522.2" x2="655.47" y2="519.4" stroke="#262626" stroke-width="1.35"/>
<line x1="655.47" y1="384.5" x2="655.47" y2="387.3" stroke="#262626" stroke-width="1.35"/>
<line x1="723.04" y1="522.2" x2="723.04" y2="519.4" stroke="#262626" stroke-width="1.35"/>
<line x1="723.04" y1="384.5" x2="723.04" y2="387.3" stroke="#262626" stroke-width="1.35"/>
<line x1="587.9" y1="522.2" x2="590.7" y2="522.2" stroke="#262626" stroke-width="1.35"/>
<line x1="782.5" y1="522.2" x2="779.7" y2="522.2" stroke="#262626" stroke-width="1.35"/>
<line x1="587.9" y1="492.2" x2="590.7" y2="492.2" stroke="#262626" stroke-width="1.35"/>
<line x1="782.5" y1="492.2" x2="779.7" y2="492.2" stroke="#262626" stroke-width="1.35"/>
<line x1="587.9" y1="462.2" x2="590.7" y2="462.2" stroke="#262626" stroke-width="1.35"/>
<line x1="782.5" y1="462.2" x2="779.7" y2="462.2" stroke="#262626" stroke-width="1.35"/>
<line x1="587.9" y1="432.2" x2="590.7" y2="432.2" stroke="#262626" stroke-width="1.35"/>
<line x1="782.5" y1="432.2" x2="779.7" y2="432.2" stroke="#262626" stroke-width="1.35"/>
<line x1="587.9" y1="402.2" x2="590.7" y2="402.2" stroke="#262626" stroke-width="1.35"/>
<line x1="782.5" y1="402.2" x2="779.7" y2="402.2" stroke="#262626" stroke-width="1.35"/>
<rect x="587.9" y="384.5" width="194.6" height="137.7" fill="none" stroke="#262626" stroke-width="1.35"/>
<text x="587.9" y="538.9" font-size="14" text-anchor="middle" fill="#262626" font-family='"Liberation Sans", sans-serif' font-weight="normal" font-style="normal" >0</text>
<text x="655.47" y="538.9" font-size="14" text-anchor="middle" fill="#262626" font-family='"Liberation Sans", sans-serif' font-weight="normal" font-style="normal" >10</text>
<text x="723.04" y="538.9" font-size="14" text-anchor="middle" fill="#262626" font-family='"Liberation Sans", sans-serif' font-weight="normal" font-style="normal" >20</text>
<text x="583.6" y="527.24" font-size="14" text-anchor="end" fill="#262626" font-family='"Liberation Sans", sans-serif' font-weight="normal" font-style="normal" >0</text>
<text x="583.6" y="497.24" font-size="14" text-anchor="end" fill="#262626" font-family='"Liberation Sans", sans-serif' font-weight="normal" font-style="normal" >1</text>
<text x="583.6" y="467.24" font-size="14" text-anchor="end" fill="#262626" font-family='"Liberation Sans", sans-serif' font-weight="normal" font-style="normal" >2</text>
<text x="583.6" y="437.24" font-size="14" text-anchor="end" fill="#262626" font-family='"Liberation Sans", sans-serif' font-weight="normal" font-style="normal" >3</text>
<text x="583.6" y="407.24" font-size="14" text-anchor="end" fill="#262626" font-family='"Liberation Sans", sans-serif' font-weight="normal" font-style="normal" >4</text>
<clipPath id="c4"><rect x="93.4" y="595.3" width="199.1" height="151"/></clipPath>
<polyline points="114.73,196.58 121.84,591.88 128.95,692.7 136.06,723.46 143.18,696.69 150.29,660.8 157.4,625.49 164.51,608.97 171.62,636.31 178.73,669.35 185.84,709.79 192.95,724.6 200.06,712.07 207.17,672.2 214.28,635.17 221.39,619.22 228.5,619.22 235.61,649.98 242.72,695.55 249.84,720.04 256.95,697.26 264.06,591.88 271.17,196.58" fill="none" stroke="#ff0000" stroke-width="1.75" stroke-linejoin="round" clip-path="url(#c4)"/>
<clipPath id="c5"><rect x="93.4" y="595.3" width="199.1" height="151"/></clipPath>
<polyline points="93.4,736.73 100.51,737.41 107.62,737.98 114.73,738.38 121.84,738.27 128.95,738.27 136.06,738.27 143.18,738.27 150.29,738.27 157.4,738.27 164.51,738.27 171.62,738.27 178.73,738.27 185.84,738.27 192.95,738.27 200.06,738.27 207.17,738.27 214.28,738.27 221.39,738.27 228.5,738.27 235.61,738.27 242.72,738.27 249.84,738.27 256.95,738.27 264.06,738.27 271.17,738.27 278.28,737.7 285.39,732 292.5,740.55" fill="none" stroke="#00ff00" stroke-width="1.75" stroke-linejoin="round" clip-path="url(#c5)"/>
<clipPath id="c6"><rect x="93.4" y="595.3" width="199.1" height="151"/></clipPath>
<polyline points="93.4,745.84 100.51,744.65 107.62,741.97 114.73,739.12 128.95,736.73 148.86,735.65 164.51,736.56 195.79,737.7 221.39,739.12 242.72,741.12 264.06,743.96 278.28,745.67 285.39,745.96 292.5,743.4" fill="none" stroke="#0000ff" stroke-width="1.75" stroke-linejoin="round" clip-path="url(#c6)"/>
<line x1="93.4" y1="746.3" x2="93.4" y2="743.5" stroke="#262626" stroke-width="1.35"/>
<line x1="93.4" y1="595.3" x2="93.4" y2="598.1" stroke="#262626" stroke-width="1.35"/>
<line x1="164.51" y1="746.3" x2="164.51" y2="743.5" stroke="#262626" stroke-width="1.35"/>
<line x1="164.51" y1="595.3" x2="164.51" y2="598.1" stroke="#262626" stroke-width="1.35"/>
<line x1="235.61" y1="746.3" x2="235.61" y2="743.5" stroke="#262626" stroke-width="1.35"/>
<line x1="235.61" y1="595.3" x2="235.61" y2="598.1" stroke="#262626" stroke-width="1.35"/>
<line x1="93.4" y1="737.7" x2="96.2" y2="737.7" stroke="#262626" stroke-width="1.35"/>
<line x1="292.5" y1="737.7" x2="289.7" y2="737.7" stroke="#262626" stroke-width="1.35"/>
<line x1="93.4" y1="709.22" x2="96.2" y2="709.22" stroke="#262626" stroke-width="1.35"/>
<line x1="292.5" y1="709.22" x2="289.7" y2="709.22" stroke="#262626" stroke-width="1.35"/>
<line x1="93.4" y1="680.74" x2="96.2" y2="680.74" stroke="#262626" stroke-width="1.35"/>
<line x1="292.5" y1="680.74" x2="289.7" y2="680.74" stroke="#262626" stroke-width="1.35"/>
<line x1="93.4" y1="652.26" x2="96.2" y2="652.26" stroke="#262626" stroke-width="1.35"/>
<line x1="292.5" y1="652.26" x2="289.7" y2="652.26" stroke="#262626" stroke-width="1.35"/>
<line x1="93.4" y1="623.78" x2="96.2" y2="623.78" stroke="#262626" stroke-width="1.35"/>
<line x1="292.5" y1="623.78" x2="289.7" y2="623.78" stroke="#262626" stroke-width="1.35"/>
<line x1="93.4" y1="595.3" x2="96.2" y2="595.3" stroke="#262626" stroke-width="1.35"/>
<line x1="292.5" y1="595.3" x2="289.7" y2="595.3" stroke="#262626" stroke-width="1.35"/>
<rect x="93.4" y="595.3" width="199.1" height="151" fill="none" stroke="#262626" stroke-width="1.35"/>
<text x="93.4" y="761.8" font-size="14.4" text-anchor="middle" fill="#262626" font-family='"Liberation Sans", sans-serif' font-weight="normal" font-style="normal" >0</text>
<text x="164.51" y="761.8" font-size="14.4" text-anchor="middle" fill="#262626" font-family='"Liberation Sans", sans-serif' font-weight="normal" font-style="normal" >10</text>
<text x="235.61" y="761.8" font-size="14.4" text-anchor="middle" fill="#262626" font-family='"Liberation Sans", sans-serif' font-weight="normal" font-style="normal" >20</text>
<text x="90.2" y="742.88" font-size="14.4" text-anchor="end" fill="#262626" font-family='"Liberation Sans", sans-serif' font-weight="normal" font-style="normal" >50</text>
<text x="90.2" y="714.4" font-size="14.4" text-anchor="end" fill="#262626" font-family='"Liberation Sans", sans-serif' font-weight="normal" font-style="normal" >100</text>
<text x="90.2" y="685.92" font-size="14.4" text-anchor="end" fill="#262626" font-family='"Liberation Sans", sans-serif' font-weight="normal" font-style="normal" >150</text>
<text x="90.2" y="657.44" font-size="14.4" text-anchor="end" fill="#262626" font-family='"Liberation Sans", sans-serif' font-weight="normal" font-style="normal" >200</text>
<text x="90.2" y="628.96" font-size="14.4" text-anchor="end" fill="#262626" font-family='"Liberation Sans", sans-serif' font-weight="normal" font-style="normal" >250</text>
<text x="90.2" y="600.48" font-size="14.4" text-anchor="end" fill="#262626" font-family='"Liberation Sans", sans-serif' font-weight="normal" font-style="normal" >300</text>
<text x="178.75" y="588.6" font-size="26.6" fill="#1a1a1a" font-family='"Liberation Serif", serif' font-weight="normal" font-style="italic" textLength="16.49" lengthAdjust="spacingAndGlyphs">N</text>
<text x="199.96" y="588.6" font-size="26.6" fill="#1a1a1a" font-family='"Liberation Serif", serif' font-weight="normal" font-style="normal" textLength="16.2" lengthAdjust="spacingAndGlyphs">=</text>
<text x="221.78" y="588.6" font-size="26.6" fill="#1a1a1a" font-family='"Liberation Serif", serif' font-weight="normal" font-style="normal" textLength="11.55" lengthAdjust="spacingAndGlyphs">8</text>
<text transform="translate(52.1 700.49) rotate(-90)" x="0" y="0" font-size="17" fill="#1a1a1a" font-family='"Liberation Sans", sans-serif' font-weight="normal" font-style="normal" textLength="81.97" lengthAdjust="spacingAndGlyphs">Frequency</text>
<text x="127.53" y="776.4" font-size="16.2" fill="#1a1a1a" font-family='"Liberation Sans", sans-serif' font-weight="normal" font-style="normal" textLength="134.75" lengthAdjust="spacingAndGlyphs">Inversion number</text>
<clipPath id="c7"><rect x="335.1" y="595.3" width="197.8" height="151"/></clipPath>
<polyline points="362.57,548.2 368.07,626.7 373.56,671.84 379.06,681.09 384.55,664.27 390.04,634.55 395.54,604.27 401.03,581.28 406.53,589.69 412.02,611.56 417.52,636.79 423.01,662.59 428.51,686.14 434,693.99 439.49,686.14 444.99,662.59 450.48,635.67 455.98,611.56 461.47,591.38 466.97,581.28 472.46,603.15 477.96,635.11 483.45,664.83 488.94,681.65 494.44,671.84 499.93,626.7 505.43,548.2" fill="none" stroke="#ff0000" stroke-width="1.75" stroke-linejoin="round" clip-path="url(#c7)"/>
<clipPath id="c8"><rect x="335.1" y="595.3" width="197.8" height="151"/></clipPath>
<polyline points="335.1,734.64 340.59,733.24 351.58,732.11 364.22,732.96 379.06,732.67 527.41,734.36 532.9,730.99" fill="none" stroke="#00ff00" stroke-width="1.75" stroke-linejoin="round" clip-path="url(#c8)"/>
<clipPath id="c9"><rect x="335.1" y="595.3" width="197.8" height="151"/></clipPath>
<polyline points="335.1,746.69 340.05,742.21 346.09,742.38 357.08,738 371.36,732.45 385.1,730.15 396.09,730.32 412.57,730.77 439.49,732.11 455.98,733.52 483.45,737.72 499.93,739.96 516.42,742.77 524.66,744.45 529.05,745.01 532.9,743.89" fill="none" stroke="#0000ff" stroke-width="1.75" stroke-linejoin="round" clip-path="url(#c9)"/>
<line x1="335.1" y1="746.3" x2="335.1" y2="743.5" stroke="#262626" stroke-width="1.35"/>
<line x1="335.1" y1="595.3" x2="335.1" y2="598.1" stroke="#262626" stroke-width="1.35"/>
<line x1="390.04" y1="746.3" x2="390.04" y2="743.5" stroke="#262626" stroke-width="1.35"/>
<line x1="390.04" y1="595.3" x2="390.04" y2="598.1" stroke="#262626" stroke-width="1.35"/>
<line x1="444.99" y1="746.3" x2="444.99" y2="743.5" stroke="#262626" stroke-width="1.35"/>
<line x1="444.99" y1="595.3" x2="444.99" y2="598.1" stroke="#262626" stroke-width="1.35"/>
<line x1="499.93" y1="746.3" x2="499.93" y2="743.5" stroke="#262626" stroke-width="1.35"/>
<line x1="499.93" y1="595.3" x2="499.93" y2="598.1" stroke="#262626" stroke-width="1.35"/>
<line x1="335.1" y1="735.48" x2="337.9" y2="735.48" stroke="#262626" stroke-width="1.35"/>
<line x1="532.9" y1="735.48" x2="530.1" y2="735.48" stroke="#262626" stroke-width="1.35"/>
<line x1="335.1" y1="707.44" x2="337.9" y2="707.44" stroke="#262626" stroke-width="1.35"/>
<line x1="532.9" y1="707.44" x2="530.1" y2="707.44" stroke="#262626" stroke-width="1.35"/>
<line x1="335.1" y1="679.41" x2="337.9" y2="679.41" stroke="#262626" stroke-width="1.35"/>
<line x1="532.9" y1="679.41" x2="530.1" y2="679.41" stroke="#262626" stroke-width="1.35"/>
<line x1="335.1" y1="651.37" x2="337.9" y2="651.37" stroke="#262626" stroke-width="1.35"/>
<line x1="532.9" y1="651.37" x2="530.1" y2="651.37" stroke="#262626" stroke-width="1.35"/>
<line x1="335.1" y1="623.34" x2="337.9" y2="623.34" stroke="#262626" stroke-width="1.35"/>
<line x1="532.9" y1="623.34" x2="530.1" y2="623.34" stroke="#262626" stroke-width="1.35"/>
<line x1="335.1" y1="595.3" x2="337.9" y2="595.3" stroke="#262626" stroke-width="1.35"/>
<line x1="532.9" y1="595.3" x2="530.1" y2="595.3" stroke="#262626" stroke-width="1.35"/>
<rect x="335.1" y="595.3" width="197.8" height="151" fill="none" stroke="#262626" stroke-width="1.35"/>
<text x="335.1" y="761.8" font-size="14.4" text-anchor="middle" fill="#262626" font-family='"Liberation Sans", sans-serif' font-weight="normal" font-style="normal" >0</text>
<text x="390.04" y="761.8" font-size="14.4" text-anchor="middle" fill="#262626" font-family='"Liberation Sans", sans-serif' font-weight="normal" font-style="normal" >10</text>
<text x="444.99" y="761.8" font-size="14.4" text-anchor="middle" fill="#262626" font-family='"Liberation Sans", sans-serif' font-weight="normal" font-style="normal" >20</text>
<text x="499.93" y="761.8" font-size="14.4" text-anchor="middle" fill="#262626" font-family='"Liberation Sans", sans-serif' font-weight="normal" font-style="normal" >30</text>
<text x="330.8" y="740.66" font-size="14.4" text-anchor="end" fill="#262626" font-family='"Liberation Sans", sans-serif' font-weight="normal" font-style="normal" >50</text>
<text x="330.8" y="712.63" font-size="14.4" text-anchor="end" fill="#262626" font-family='"Liberation Sans", sans-serif' font-weight="normal" font-style="normal" >100</text>
<text x="330.8" y="684.59" font-size="14.4" text-anchor="end" fill="#262626" font-family='"Liberation Sans", sans-serif' font-weight="normal" font-style="normal" >150</text>
<text x="330.8" y="656.56" font-size="14.4" text-anchor="end" fill="#262626" font-family='"Liberation Sans", sans-serif' font-weight="normal" font-style="normal" >200</text>
<text x="330.8" y="628.52" font-size="14.4" text-anchor="end" fill="#262626" font-family='"Liberation Sans", sans-serif' font-weight="normal" font-style="normal" >250</text>
<text x="330.8" y="600.48" font-size="14.4" text-anchor="end" fill="#262626" font-family='"Liberation Sans", sans-serif' font-weight="normal" font-style="normal" >300</text>
<text x="415.77" y="588.6" font-size="26.6" fill="#1a1a1a" font-family='"Liberation Serif", serif' font-weight="normal" font-style="italic" textLength="17.69" lengthAdjust="spacingAndGlyphs">N</text>
<text x="437.16" y="588.6" font-size="26.6" fill="#1a1a1a" font-family='"Liberation Serif", serif' font-weight="normal" font-style="normal" textLength="16.2" lengthAdjust="spacingAndGlyphs">=</text>
<text x="458.83" y="588.6" font-size="26.6" fill="#1a1a1a" font-family='"Liberation Serif", serif' font-weight="normal" font-style="normal" textLength="12.91" lengthAdjust="spacingAndGlyphs">9</text>
<clipPath id="c10"><rect x="574.3" y="595.3" width="198.7" height="151"/></clipPath>
<polyline points="600.79,483.41 605.21,586.91 609.62,628.87 614.04,632.78 618.46,613.2 622.87,592.5 627.29,539.35 631.7,572.92 636.12,596.98 640.53,623.27 644.95,647.33 649.36,665.79 653.78,670.27 658.2,662.44 662.61,646.21 667.03,631.11 671.44,621.59 675.86,620.48 680.27,630.55 684.69,647.33 689.1,662.44 693.52,669.71 697.94,665.79 702.35,647.33 706.77,623.27 711.18,600.89 715.6,572.92 720.01,539.35 724.43,582.43 728.84,614.88 733.26,631.11 737.68,631.11 742.09,594.18 746.51,483.41" fill="none" stroke="#ff0000" stroke-width="1.75" stroke-linejoin="round" clip-path="url(#c10)"/>
<clipPath id="c11"><rect x="574.3" y="595.3" width="198.7" height="151"/></clipPath>
<polyline points="574.3,737.96 578.72,734.05 587.55,732.37 618.46,732.37 662.61,732.37 706.77,732.37 750.92,732.37 759.75,731.81 768.58,734.05 773,736.29" fill="none" stroke="#00ff00" stroke-width="1.75" stroke-linejoin="round" clip-path="url(#c11)"/>
<clipPath id="c12"><rect x="574.3" y="595.3" width="198.7" height="151"/></clipPath>
<polyline points="574.3,746.36 578.72,744.68 591.96,741.88 605.21,736.29 618.46,731.25 631.7,729.57 644.95,730.13 671.44,731.81 693.52,735.17 720.01,740.76 750.92,745.24 764.17,745.8 773,737.96" fill="none" stroke="#0000ff" stroke-width="1.75" stroke-linejoin="round" clip-path="url(#c12)"/>
<line x1="574.3" y1="746.3" x2="574.3" y2="743.5" stroke="#262626" stroke-width="1.35"/>
<line x1="574.3" y1="595.3" x2="574.3" y2="598.1" stroke="#262626" stroke-width="1.35"/>
<line x1="618.46" y1="746.3" x2="618.46" y2="743.5" stroke="#262626" stroke-width="1.35"/>
<line x1="618.46" y1="595.3" x2="618.46" y2="598.1" stroke="#262626" stroke-width="1.35"/>
<line x1="662.61" y1="746.3" x2="662.61" y2="743.5" stroke="#262626" stroke-width="1.35"/>
<line x1="662.61" y1="595.3" x2="662.61" y2="598.1" stroke="#262626" stroke-width="1.35"/>
<line x1="706.77" y1="746.3" x2="706.77" y2="743.5" stroke="#262626" stroke-width="1.35"/>
<line x1="706.77" y1="595.3" x2="706.77" y2="598.1" stroke="#262626" stroke-width="1.35"/>
<line x1="750.92" y1="746.3" x2="750.92" y2="743.5" stroke="#262626" stroke-width="1.35"/>
<line x1="750.92" y1="595.3" x2="750.92" y2="598.1" stroke="#262626" stroke-width="1.35"/>
<line x1="574.3" y1="735.17" x2="577.1" y2="735.17" stroke="#262626" stroke-width="1.35"/>
<line x1="773" y1="735.17" x2="770.2" y2="735.17" stroke="#262626" stroke-width="1.35"/>
<line x1="574.3" y1="707.19" x2="577.1" y2="707.19" stroke="#262626" stroke-width="1.35"/>
<line x1="773" y1="707.19" x2="770.2" y2="707.19" stroke="#262626" stroke-width="1.35"/>
<line x1="574.3" y1="679.22" x2="577.1" y2="679.22" stroke="#262626" stroke-width="1.35"/>
<line x1="773" y1="679.22" x2="770.2" y2="679.22" stroke="#262626" stroke-width="1.35"/>
<line x1="574.3" y1="651.25" x2="577.1" y2="651.25" stroke="#262626" stroke-width="1.35"/>
<line x1="773" y1="651.25" x2="770.2" y2="651.25" stroke="#262626" stroke-width="1.35"/>
<line x1="574.3" y1="623.27" x2="577.1" y2="623.27" stroke="#262626" stroke-width="1.35"/>
<line x1="773" y1="623.27" x2="770.2" y2="623.27" stroke="#262626" stroke-width="1.35"/>
<line x1="574.3" y1="595.3" x2="577.1" y2="595.3" stroke="#262626" stroke-width="1.35"/>
<line x1="773" y1="595.3" x2="770.2" y2="595.3" stroke="#262626" stroke-width="1.35"/>
<rect x="574.3" y="595.3" width="198.7" height="151" fill="none" stroke="#262626" stroke-width="1.35"/>
<text x="574.3" y="761.8" font-size="14.4" text-anchor="middle" fill="#262626" font-family='"Liberation Sans", sans-serif' font-weight="normal" font-style="normal" >0</text>
<text x="618.46" y="761.8" font-size="14.4" text-anchor="middle" fill="#262626" font-family='"Liberation Sans", sans-serif' font-weight="normal" font-style="normal" >10</text>
<text x="662.61" y="761.8" font-size="14.4" text-anchor="middle" fill="#262626" font-family='"Liberation Sans", sans-serif' font-weight="normal" font-style="normal" >20</text>
<text x="706.77" y="761.8" font-size="14.4" text-anchor="middle" fill="#262626" font-family='"Liberation Sans", sans-serif' font-weight="normal" font-style="normal" >30</text>
<text x="750.92" y="761.8" font-size="14.4" text-anchor="middle" fill="#262626" font-family='"Liberation Sans", sans-serif' font-weight="normal" font-style="normal" >40</text>
<text x="571.1" y="740.35" font-size="14.4" text-anchor="end" fill="#262626" font-family='"Liberation Sans", sans-serif' font-weight="normal" font-style="normal" >50</text>
<text x="571.1" y="712.38" font-size="14.4" text-anchor="end" fill="#262626" font-family='"Liberation Sans", sans-serif' font-weight="normal" font-style="normal" >100</text>
<text x="571.1" y="684.4" font-size="14.4" text-anchor="end" fill="#262626" font-family='"Liberation Sans", sans-serif' font-weight="normal" font-style="normal" >150</text>
<text x="571.1" y="656.43" font-size="14.4" text-anchor="end" fill="#262626" font-family='"Liberation Sans", sans-serif' font-weight="normal" font-style="normal" >200</text>
<text x="571.1" y="628.46" font-size="14.4" text-anchor="end" fill="#262626" font-family='"Liberation Sans", sans-serif' font-weight="normal" font-style="normal" >250</text>
<text x="571.1" y="600.48" font-size="14.4" text-anchor="end" fill="#262626" font-family='"Liberation Sans", sans-serif' font-weight="normal" font-style="normal" >300</text>
<text x="649.06" y="588.4" font-size="26.6" fill="#1a1a1a" font-family='"Liberation Serif", serif' font-weight="normal" font-style="italic" textLength="17.42" lengthAdjust="spacingAndGlyphs">N</text>
<text x="670.61" y="588.4" font-size="26.6" fill="#1a1a1a" font-family='"Liberation Serif", serif' font-weight="normal" font-style="normal" textLength="15.72" lengthAdjust="spacingAndGlyphs">=</text>
<text x="693.03" y="588.4" font-size="26.6" fill="#1a1a1a" font-family='"Liberation Serif", serif' font-weight="normal" font-style="normal" textLength="24.14" lengthAdjust="spacingAndGlyphs">10</text>
<rect x="676.3" y="674.5" width="86.7" height="51.1" fill="#fff" stroke="#262626" stroke-width="1.1"/>
<line x1="679.4" y1="683.9" x2="702" y2="683.9" stroke="#ff0000" stroke-width="1.3"/>
<text x="704.29" y="688.3" font-size="13" fill="#111" font-family='"Liberation Sans", sans-serif' font-weight="normal" font-style="normal" textLength="35.65" lengthAdjust="spacingAndGlyphs">centre</text>
<line x1="679.4" y1="700" x2="702" y2="700" stroke="#00ff00" stroke-width="1.3"/>
<text x="703.89" y="704.4" font-size="13" fill="#111" font-family='"Liberation Sans", sans-serif' font-weight="normal" font-style="normal" textLength="43.45" lengthAdjust="spacingAndGlyphs">uniform</text>
<line x1="679.4" y1="716" x2="702" y2="716" stroke="#0000ff" stroke-width="1.3"/>
<text x="703.91" y="720.4" font-size="13" fill="#111" font-family='"Liberation Sans", sans-serif' font-weight="normal" font-style="normal" textLength="53.17" lengthAdjust="spacingAndGlyphs">near-field</text>
<clipPath id="c13"><rect x="92.8" y="791.2" width="200.2" height="157.8"/></clipPath>
<polyline points="92.8,801.67 126.17,805.6 159.53,871.91 192.9,896.13 226.27,933.8 259.63,949 293,953.25" fill="none" stroke="#ff0000" stroke-width="1.75" stroke-linejoin="round" clip-path="url(#c13)"/>
<clipPath id="c14"><rect x="92.8" y="791.2" width="200.2" height="157.8"/></clipPath>
<polyline points="92.8,923.82 293,923.82" fill="none" stroke="#00ff00" stroke-width="1.75" stroke-linejoin="round" clip-path="url(#c14)"/>
<clipPath id="c15"><rect x="92.8" y="791.2" width="200.2" height="157.8"/></clipPath>
<polyline points="92.8,930.35 126.17,925.3 159.53,923.18 192.9,922.97 226.27,922.43 259.63,921.37 293,916.06" fill="none" stroke="#0000ff" stroke-width="1.75" stroke-linejoin="round" clip-path="url(#c15)"/>
<line x1="92.8" y1="949" x2="92.8" y2="946.2" stroke="#262626" stroke-width="1.35"/>
<line x1="92.8" y1="791.2" x2="92.8" y2="794" stroke="#262626" stroke-width="1.35"/>
<line x1="159.53" y1="949" x2="159.53" y2="946.2" stroke="#262626" stroke-width="1.35"/>
<line x1="159.53" y1="791.2" x2="159.53" y2="794" stroke="#262626" stroke-width="1.35"/>
<line x1="226.27" y1="949" x2="226.27" y2="946.2" stroke="#262626" stroke-width="1.35"/>
<line x1="226.27" y1="791.2" x2="226.27" y2="794" stroke="#262626" stroke-width="1.35"/>
<line x1="293" y1="949" x2="293" y2="946.2" stroke="#262626" stroke-width="1.35"/>
<line x1="293" y1="791.2" x2="293" y2="794" stroke="#262626" stroke-width="1.35"/>
<line x1="92.8" y1="924.03" x2="95.6" y2="924.03" stroke="#262626" stroke-width="1.35"/>
<line x1="293" y1="924.03" x2="290.2" y2="924.03" stroke="#262626" stroke-width="1.35"/>
<line x1="92.8" y1="897.46" x2="95.6" y2="897.46" stroke="#262626" stroke-width="1.35"/>
<line x1="293" y1="897.46" x2="290.2" y2="897.46" stroke="#262626" stroke-width="1.35"/>
<line x1="92.8" y1="870.9" x2="95.6" y2="870.9" stroke="#262626" stroke-width="1.35"/>
<line x1="293" y1="870.9" x2="290.2" y2="870.9" stroke="#262626" stroke-width="1.35"/>
<line x1="92.8" y1="844.33" x2="95.6" y2="844.33" stroke="#262626" stroke-width="1.35"/>
<line x1="293" y1="844.33" x2="290.2" y2="844.33" stroke="#262626" stroke-width="1.35"/>
<line x1="92.8" y1="817.77" x2="95.6" y2="817.77" stroke="#262626" stroke-width="1.35"/>
<line x1="293" y1="817.77" x2="290.2" y2="817.77" stroke="#262626" stroke-width="1.35"/>
<line x1="92.8" y1="791.2" x2="95.6" y2="791.2" stroke="#262626" stroke-width="1.35"/>
<line x1="293" y1="791.2" x2="290.2" y2="791.2" stroke="#262626" stroke-width="1.35"/>
<rect x="92.8" y="791.2" width="200.2" height="157.8" fill="none" stroke="#262626" stroke-width="1.35"/>
<text x="92.8" y="962.6" font-size="14.4" text-anchor="middle" fill="#262626" font-family='"Liberation Sans", sans-serif' font-weight="normal" font-style="normal" >0</text>
<text x="159.53" y="962.6" font-size="14.4" text-anchor="middle" fill="#262626" font-family='"Liberation Sans", sans-serif' font-weight="normal" font-style="normal" >2</text>
<text x="226.27" y="962.6" font-size="14.4" text-anchor="middle" fill="#262626" font-family='"Liberation Sans", sans-serif' font-weight="normal" font-style="normal" >4</text>
<text x="293" y="962.6" font-size="14.4" text-anchor="middle" fill="#262626" font-family='"Liberation Sans", sans-serif' font-weight="normal" font-style="normal" >6</text>
<text x="89.4" y="929.21" font-size="14.4" text-anchor="end" fill="#262626" font-family='"Liberation Sans", sans-serif' font-weight="normal" font-style="normal" >50</text>
<text x="89.4" y="902.65" font-size="14.4" text-anchor="end" fill="#262626" font-family='"Liberation Sans", sans-serif' font-weight="normal" font-style="normal" >100</text>
<text x="89.4" y="876.08" font-size="14.4" text-anchor="end" fill="#262626" font-family='"Liberation Sans", sans-serif' font-weight="normal" font-style="normal" >150</text>
<text x="89.4" y="849.52" font-size="14.4" text-anchor="end" fill="#262626" font-family='"Liberation Sans", sans-serif' font-weight="normal" font-style="normal" >200</text>
<text x="89.4" y="822.95" font-size="14.4" text-anchor="end" fill="#262626" font-family='"Liberation Sans", sans-serif' font-weight="normal" font-style="normal" >250</text>
<text x="89.4" y="796.38" font-size="14.4" text-anchor="end" fill="#262626" font-family='"Liberation Sans", sans-serif' font-weight="normal" font-style="normal" >300</text>
<text transform="translate(53.6 900.19) rotate(-90)" x="0" y="0" font-size="17.5" fill="#1a1a1a" font-family='"Liberation Sans", sans-serif' font-weight="normal" font-style="normal" textLength="82.17" lengthAdjust="spacingAndGlyphs">Frequency</text>
<text x="117.73" y="978" font-size="16.5" fill="#1a1a1a" font-family='"Liberation Sans", sans-serif' font-weight="normal" font-style="normal" textLength="145.07" lengthAdjust="spacingAndGlyphs">Singularity number</text>
<clipPath id="c16"><rect x="332.6" y="791.2" width="200.3" height="157.8"/></clipPath>
<polyline points="357.64,714.72 382.68,832.56 407.71,884.48 432.75,920.78 457.79,940.11 482.82,948.89 507.86,955.46" fill="none" stroke="#ff0000" stroke-width="1.75" stroke-linejoin="round" clip-path="url(#c16)"/>
<clipPath id="c17"><rect x="332.6" y="791.2" width="200.3" height="157.8"/></clipPath>
<polyline points="332.6,923.15 532.9,924.23" fill="none" stroke="#00ff00" stroke-width="1.75" stroke-linejoin="round" clip-path="url(#c17)"/>
<clipPath id="c18"><rect x="332.6" y="791.2" width="200.3" height="157.8"/></clipPath>
<polyline points="332.6,933.33 357.64,926.54 382.68,923.15 407.71,922.34 432.75,921.43 457.79,920.08 482.82,918.41 507.86,917.39 532.9,912.27" fill="none" stroke="#0000ff" stroke-width="1.75" stroke-linejoin="round" clip-path="url(#c18)"/>
<line x1="332.6" y1="949" x2="332.6" y2="946.2" stroke="#262626" stroke-width="1.35"/>
<line x1="332.6" y1="791.2" x2="332.6" y2="794" stroke="#262626" stroke-width="1.35"/>
<line x1="382.68" y1="949" x2="382.68" y2="946.2" stroke="#262626" stroke-width="1.35"/>
<line x1="382.68" y1="791.2" x2="382.68" y2="794" stroke="#262626" stroke-width="1.35"/>
<line x1="432.75" y1="949" x2="432.75" y2="946.2" stroke="#262626" stroke-width="1.35"/>
<line x1="432.75" y1="791.2" x2="432.75" y2="794" stroke="#262626" stroke-width="1.35"/>
<line x1="482.82" y1="949" x2="482.82" y2="946.2" stroke="#262626" stroke-width="1.35"/>
<line x1="482.82" y1="791.2" x2="482.82" y2="794" stroke="#262626" stroke-width="1.35"/>
<line x1="532.9" y1="949" x2="532.9" y2="946.2" stroke="#262626" stroke-width="1.35"/>
<line x1="532.9" y1="791.2" x2="532.9" y2="794" stroke="#262626" stroke-width="1.35"/>
<line x1="332.6" y1="925.84" x2="335.4" y2="925.84" stroke="#262626" stroke-width="1.35"/>
<line x1="532.9" y1="925.84" x2="530.1" y2="925.84" stroke="#262626" stroke-width="1.35"/>
<line x1="332.6" y1="898.91" x2="335.4" y2="898.91" stroke="#262626" stroke-width="1.35"/>
<line x1="532.9" y1="898.91" x2="530.1" y2="898.91" stroke="#262626" stroke-width="1.35"/>
<line x1="332.6" y1="871.98" x2="335.4" y2="871.98" stroke="#262626" stroke-width="1.35"/>
<line x1="532.9" y1="871.98" x2="530.1" y2="871.98" stroke="#262626" stroke-width="1.35"/>
<line x1="332.6" y1="845.06" x2="335.4" y2="845.06" stroke="#262626" stroke-width="1.35"/>
<line x1="532.9" y1="845.06" x2="530.1" y2="845.06" stroke="#262626" stroke-width="1.35"/>
<line x1="332.6" y1="818.13" x2="335.4" y2="818.13" stroke="#262626" stroke-width="1.35"/>
<line x1="532.9" y1="818.13" x2="530.1" y2="818.13" stroke="#262626" stroke-width="1.35"/>
<line x1="332.6" y1="791.2" x2="335.4" y2="791.2" stroke="#262626" stroke-width="1.35"/>
<line x1="532.9" y1="791.2" x2="530.1" y2="791.2" stroke="#262626" stroke-width="1.35"/>
<rect x="332.6" y="791.2" width="200.3" height="157.8" fill="none" stroke="#262626" stroke-width="1.35"/>
<text x="332.6" y="962.6" font-size="14.4" text-anchor="middle" fill="#262626" font-family='"Liberation Sans", sans-serif' font-weight="normal" font-style="normal" >0</text>
<text x="382.68" y="962.6" font-size="14.4" text-anchor="middle" fill="#262626" font-family='"Liberation Sans", sans-serif' font-weight="normal" font-style="normal" >2</text>
<text x="432.75" y="962.6" font-size="14.4" text-anchor="middle" fill="#262626" font-family='"Liberation Sans", sans-serif' font-weight="normal" font-style="normal" >4</text>
<text x="482.82" y="962.6" font-size="14.4" text-anchor="middle" fill="#262626" font-family='"Liberation Sans", sans-serif' font-weight="normal" font-style="normal" >6</text>
<text x="532.9" y="962.6" font-size="14.4" text-anchor="middle" fill="#262626" font-family='"Liberation Sans", sans-serif' font-weight="normal" font-style="normal" >8</text>
<text x="329.2" y="931.03" font-size="14.4" text-anchor="end" fill="#262626" font-family='"Liberation Sans", sans-serif' font-weight="normal" font-style="normal" >50</text>
<text x="329.2" y="904.1" font-size="14.4" text-anchor="end" fill="#262626" font-family='"Liberation Sans", sans-serif' font-weight="normal" font-style="normal" >100</text>
<text x="329.2" y="877.17" font-size="14.4" text-anchor="end" fill="#262626" font-family='"Liberation Sans", sans-serif' font-weight="normal" font-style="normal" >150</text>
<text x="329.2" y="850.24" font-size="14.4" text-anchor="end" fill="#262626" font-family='"Liberation Sans", sans-serif' font-weight="normal" font-style="normal" >200</text>
<text x="329.2" y="823.31" font-size="14.4" text-anchor="end" fill="#262626" font-family='"Liberation Sans", sans-serif' font-weight="normal" font-style="normal" >250</text>
<text x="329.2" y="796.38" font-size="14.4" text-anchor="end" fill="#262626" font-family='"Liberation Sans", sans-serif' font-weight="normal" font-style="normal" >300</text>
<clipPath id="c19"><rect x="571" y="791.2" width="200.8" height="157.8"/></clipPath>
<polyline points="611.16,791.2 631.24,835.61 651.32,873.65 671.4,903.95 691.48,931.53 711.56,946.65 731.64,949 751.72,954.18" fill="none" stroke="#ff0000" stroke-width="1.75" stroke-linejoin="round" clip-path="url(#c19)"/>
<clipPath id="c20"><rect x="571" y="791.2" width="200.8" height="157.8"/></clipPath>
<polyline points="571,921.43 751.72,921.43 771.8,919.77" fill="none" stroke="#00ff00" stroke-width="1.75" stroke-linejoin="round" clip-path="url(#c20)"/>
<clipPath id="c21"><rect x="571" y="791.2" width="200.8" height="157.8"/></clipPath>
<polyline points="571,933.88 591.08,926.5 611.16,922.44 631.24,920.73 651.32,920.25 671.4,919.72 691.48,919.24 711.56,918.91 731.64,918.65 751.72,918.06 771.8,918.75" fill="none" stroke="#0000ff" stroke-width="1.75" stroke-linejoin="round" clip-path="url(#c21)"/>
<line x1="571" y1="949" x2="571" y2="946.2" stroke="#262626" stroke-width="1.35"/>
<line x1="571" y1="791.2" x2="571" y2="794" stroke="#262626" stroke-width="1.35"/>
<line x1="611.16" y1="949" x2="611.16" y2="946.2" stroke="#262626" stroke-width="1.35"/>
<line x1="611.16" y1="791.2" x2="611.16" y2="794" stroke="#262626" stroke-width="1.35"/>
<line x1="651.32" y1="949" x2="651.32" y2="946.2" stroke="#262626" stroke-width="1.35"/>
<line x1="651.32" y1="791.2" x2="651.32" y2="794" stroke="#262626" stroke-width="1.35"/>
<line x1="691.48" y1="949" x2="691.48" y2="946.2" stroke="#262626" stroke-width="1.35"/>
<line x1="691.48" y1="791.2" x2="691.48" y2="794" stroke="#262626" stroke-width="1.35"/>
<line x1="731.64" y1="949" x2="731.64" y2="946.2" stroke="#262626" stroke-width="1.35"/>
<line x1="731.64" y1="791.2" x2="731.64" y2="794" stroke="#262626" stroke-width="1.35"/>
<line x1="771.8" y1="949" x2="771.8" y2="946.2" stroke="#262626" stroke-width="1.35"/>
<line x1="771.8" y1="791.2" x2="771.8" y2="794" stroke="#262626" stroke-width="1.35"/>
<line x1="571" y1="924.79" x2="573.8" y2="924.79" stroke="#262626" stroke-width="1.35"/>
<line x1="771.8" y1="924.79" x2="769" y2="924.79" stroke="#262626" stroke-width="1.35"/>
<line x1="571" y1="898.07" x2="573.8" y2="898.07" stroke="#262626" stroke-width="1.35"/>
<line x1="771.8" y1="898.07" x2="769" y2="898.07" stroke="#262626" stroke-width="1.35"/>
<line x1="571" y1="871.36" x2="573.8" y2="871.36" stroke="#262626" stroke-width="1.35"/>
<line x1="771.8" y1="871.36" x2="769" y2="871.36" stroke="#262626" stroke-width="1.35"/>
<line x1="571" y1="844.64" x2="573.8" y2="844.64" stroke="#262626" stroke-width="1.35"/>
<line x1="771.8" y1="844.64" x2="769" y2="844.64" stroke="#262626" stroke-width="1.35"/>
<line x1="571" y1="817.92" x2="573.8" y2="817.92" stroke="#262626" stroke-width="1.35"/>
<line x1="771.8" y1="817.92" x2="769" y2="817.92" stroke="#262626" stroke-width="1.35"/>
<line x1="571" y1="791.2" x2="573.8" y2="791.2" stroke="#262626" stroke-width="1.35"/>
<line x1="771.8" y1="791.2" x2="769" y2="791.2" stroke="#262626" stroke-width="1.35"/>
<rect x="571" y="791.2" width="200.8" height="157.8" fill="none" stroke="#262626" stroke-width="1.35"/>
<text x="571" y="962.6" font-size="14.4" text-anchor="middle" fill="#262626" font-family='"Liberation Sans", sans-serif' font-weight="normal" font-style="normal" >0</text>
<text x="611.16" y="962.6" font-size="14.4" text-anchor="middle" fill="#262626" font-family='"Liberation Sans", sans-serif' font-weight="normal" font-style="normal" >2</text>
<text x="651.32" y="962.6" font-size="14.4" text-anchor="middle" fill="#262626" font-family='"Liberation Sans", sans-serif' font-weight="normal" font-style="normal" >4</text>
<text x="691.48" y="962.6" font-size="14.4" text-anchor="middle" fill="#262626" font-family='"Liberation Sans", sans-serif' font-weight="normal" font-style="normal" >6</text>
<text x="731.64" y="962.6" font-size="14.4" text-anchor="middle" fill="#262626" font-family='"Liberation Sans", sans-serif' font-weight="normal" font-style="normal" >8</text>
<text x="771.8" y="962.6" font-size="14.4" text-anchor="middle" fill="#262626" font-family='"Liberation Sans", sans-serif' font-weight="normal" font-style="normal" >10</text>
<text x="567.6" y="929.98" font-size="14.4" text-anchor="end" fill="#262626" font-family='"Liberation Sans", sans-serif' font-weight="normal" font-style="normal" >50</text>
<text x="567.6" y="903.26" font-size="14.4" text-anchor="end" fill="#262626" font-family='"Liberation Sans", sans-serif' font-weight="normal" font-style="normal" >100</text>
<text x="567.6" y="876.54" font-size="14.4" text-anchor="end" fill="#262626" font-family='"Liberation Sans", sans-serif' font-weight="normal" font-style="normal" >150</text>
<text x="567.6" y="849.82" font-size="14.4" text-anchor="end" fill="#262626" font-family='"Liberation Sans", sans-serif' font-weight="normal" font-style="normal" >200</text>
<text x="567.6" y="823.1" font-size="14.4" text-anchor="end" fill="#262626" font-family='"Liberation Sans", sans-serif' font-weight="normal" font-style="normal" >250</text>
<text x="567.6" y="796.38" font-size="14.4" text-anchor="end" fill="#262626" font-family='"Liberation Sans", sans-serif' font-weight="normal" font-style="normal" >300</text></svg>
</body></html>
